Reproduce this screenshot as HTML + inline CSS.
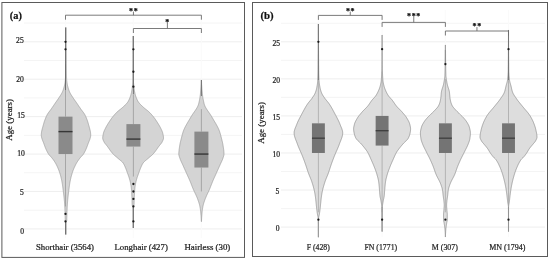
<!DOCTYPE html>
<html><head><meta charset="utf-8"><title>Age by coat and sex</title>
<style>html,body{margin:0;padding:0;background:#fff}svg{display:block}</style></head><body>
<svg width="550" height="260" viewBox="0 0 550 260" font-family="'Liberation Serif', 'DejaVu Serif', serif">
<style>text{stroke:#222;stroke-width:0.22px;paint-order:stroke}</style>
<rect width="550" height="260" fill="#fff"/>
<rect x="1.9" y="2.5" width="242.6" height="254.9" fill="#fff" stroke="#5a5a5a" stroke-width="1"/>
<line x1="24" x2="242" y1="228.90" y2="228.90" stroke="#ececec" stroke-width="0.9"/>
<line x1="24" x2="242" y1="210.19" y2="210.19" stroke="#ececec" stroke-width="0.6"/>
<line x1="24" x2="242" y1="191.48" y2="191.48" stroke="#ececec" stroke-width="0.9"/>
<line x1="24" x2="242" y1="172.77" y2="172.77" stroke="#ececec" stroke-width="0.6"/>
<line x1="24" x2="242" y1="154.06" y2="154.06" stroke="#ececec" stroke-width="0.9"/>
<line x1="24" x2="242" y1="135.35" y2="135.35" stroke="#ececec" stroke-width="0.6"/>
<line x1="24" x2="242" y1="116.64" y2="116.64" stroke="#ececec" stroke-width="0.9"/>
<line x1="24" x2="242" y1="97.93" y2="97.93" stroke="#ececec" stroke-width="0.6"/>
<line x1="24" x2="242" y1="79.22" y2="79.22" stroke="#ececec" stroke-width="0.9"/>
<line x1="24" x2="242" y1="60.51" y2="60.51" stroke="#ececec" stroke-width="0.6"/>
<line x1="24" x2="242" y1="41.80" y2="41.80" stroke="#ececec" stroke-width="0.9"/>
<line x1="24" x2="242" y1="23.09" y2="23.09" stroke="#ececec" stroke-width="0.6"/>
<line x1="65.50" x2="65.50" y1="10" y2="238" stroke="#f9f9f9" stroke-width="0.9"/>
<line x1="133.40" x2="133.40" y1="10" y2="238" stroke="#f9f9f9" stroke-width="0.9"/>
<line x1="201.40" x2="201.40" y1="10" y2="238" stroke="#f9f9f9" stroke-width="0.9"/>
<text x="24.00" y="234.00" font-size="7.6" text-anchor="end" fill="#222">0</text>
<text x="23.80" y="195.40" font-size="7.6" text-anchor="end" fill="#222">5</text>
<text x="24.80" y="156.40" font-size="7.6" text-anchor="end" fill="#222">10</text>
<text x="24.80" y="117.50" font-size="7.6" text-anchor="end" fill="#222">15</text>
<text x="23.80" y="82.20" font-size="7.6" text-anchor="end" fill="#222">20</text>
<text x="23.70" y="43.20" font-size="7.6" text-anchor="end" fill="#222">25</text>
<text transform="translate(12.4,140.8) rotate(-90)" font-size="9" fill="#222" textLength="41.8" lengthAdjust="spacingAndGlyphs">Age (years)</text>
<text x="9.8" y="18.7" font-size="9.8" font-weight="bold" fill="#111" textLength="12.1" lengthAdjust="spacingAndGlyphs">(a)</text>
<polygon points="65.95,27.50 65.95,28.00 65.95,28.50 65.95,29.00 65.95,29.50 65.95,30.00 65.95,30.50 65.95,31.00 65.95,31.50 65.95,32.00 65.95,32.50 65.95,33.00 65.95,33.50 65.95,34.00 65.94,34.50 65.94,35.00 65.94,35.50 65.94,36.00 65.94,36.50 65.94,37.00 65.94,37.50 65.94,38.00 65.94,38.50 65.94,39.00 65.94,39.50 65.93,40.00 65.93,40.50 65.93,41.00 65.93,41.50 65.93,42.00 65.93,42.50 65.93,43.00 65.92,43.50 65.92,44.00 65.92,44.50 65.92,45.00 65.92,45.50 65.92,46.00 65.91,46.50 65.91,47.00 65.91,47.50 65.91,48.00 65.91,48.50 65.90,49.00 65.90,49.50 65.90,50.00 65.90,50.50 65.90,51.00 65.89,51.50 65.89,52.00 65.89,52.50 65.89,53.00 65.88,53.50 65.88,54.00 65.88,54.50 65.88,55.00 65.87,55.50 65.87,56.00 65.87,56.50 65.87,57.00 65.86,57.50 65.86,58.00 65.86,58.50 65.86,59.00 65.85,59.50 65.85,60.00 65.85,60.50 65.84,61.00 65.84,61.50 65.84,62.00 65.83,62.50 65.83,63.00 65.82,63.50 65.81,64.00 65.81,64.50 65.80,65.00 65.79,65.50 65.79,66.00 65.78,66.50 65.77,67.00 65.76,67.50 65.75,68.00 65.74,68.50 65.73,69.00 65.72,69.50 65.71,70.00 65.70,70.50 65.68,71.00 65.67,71.50 65.66,72.00 65.64,72.50 65.63,73.00 65.61,73.50 65.59,74.00 65.58,74.50 65.56,75.00 65.54,75.50 65.52,76.00 65.51,76.50 65.49,77.00 65.47,77.50 65.44,78.00 65.42,78.50 65.40,79.00 65.37,79.50 65.33,80.00 65.29,80.50 65.23,81.00 65.17,81.50 65.11,82.00 65.04,82.50 64.96,83.00 64.88,83.50 64.80,84.00 64.71,84.50 64.61,85.00 64.49,85.50 64.36,86.00 64.23,86.50 64.09,87.00 63.95,87.50 63.80,88.00 63.65,88.50 63.50,89.00 63.34,89.50 63.17,90.00 63.00,90.50 62.81,91.00 62.61,91.50 62.40,92.00 62.17,92.50 61.92,93.00 61.64,93.50 61.35,94.00 61.05,94.50 60.73,95.00 60.41,95.50 60.08,96.00 59.75,96.50 59.42,97.00 59.10,97.50 58.77,98.00 58.44,98.50 58.10,99.00 57.75,99.50 57.41,100.00 57.05,100.50 56.70,101.00 56.35,101.50 55.99,102.00 55.64,102.50 55.30,103.00 54.96,103.50 54.62,104.00 54.28,104.50 53.94,105.00 53.61,105.50 53.27,106.00 52.93,106.50 52.59,107.00 52.25,107.50 51.91,108.00 51.57,108.50 51.22,109.00 50.85,109.50 50.48,110.00 50.10,110.50 49.71,111.00 49.33,111.50 48.95,112.00 48.58,112.50 48.22,113.00 47.88,113.50 47.56,114.00 47.27,114.50 47.00,115.00 46.75,115.50 46.52,116.00 46.28,116.50 46.06,117.00 45.84,117.50 45.63,118.00 45.43,118.50 45.23,119.00 45.04,119.50 44.86,120.00 44.68,120.50 44.51,121.00 44.34,121.50 44.19,122.00 44.03,122.50 43.88,123.00 43.74,123.50 43.60,124.00 43.46,124.50 43.32,125.00 43.18,125.50 43.04,126.00 42.89,126.50 42.75,127.00 42.61,127.50 42.47,128.00 42.33,128.50 42.20,129.00 42.08,129.50 41.96,130.00 41.84,130.50 41.74,131.00 41.64,131.50 41.56,132.00 41.48,132.50 41.42,133.00 41.37,133.50 41.33,134.00 41.31,134.50 41.30,135.00 41.31,135.50 41.36,136.00 41.43,136.50 41.52,137.00 41.63,137.50 41.76,138.00 41.91,138.50 42.07,139.00 42.25,139.50 42.43,140.00 42.62,140.50 42.82,141.00 43.02,141.50 43.23,142.00 43.43,142.50 43.62,143.00 43.82,143.50 44.00,144.00 44.18,144.50 44.36,145.00 44.54,145.50 44.73,146.00 44.92,146.50 45.11,147.00 45.30,147.50 45.50,148.00 45.71,148.50 45.92,149.00 46.14,149.50 46.36,150.00 46.60,150.50 46.84,151.00 47.09,151.50 47.35,152.00 47.62,152.50 47.90,153.00 48.19,153.50 48.50,154.00 48.85,154.50 49.25,155.00 49.70,155.50 50.18,156.00 50.66,156.50 51.14,157.00 51.59,157.50 52.00,158.00 52.38,158.50 52.75,159.00 53.12,159.50 53.48,160.00 53.84,160.50 54.18,161.00 54.51,161.50 54.84,162.00 55.15,162.50 55.45,163.00 55.73,163.50 56.00,164.00 56.26,164.50 56.51,165.00 56.76,165.50 57.01,166.00 57.25,166.50 57.48,167.00 57.71,167.50 57.93,168.00 58.14,168.50 58.35,169.00 58.55,169.50 58.75,170.00 58.94,170.50 59.13,171.00 59.31,171.50 59.48,172.00 59.64,172.50 59.80,173.00 59.95,173.50 60.10,174.00 60.25,174.50 60.39,175.00 60.53,175.50 60.66,176.00 60.80,176.50 60.92,177.00 61.05,177.50 61.17,178.00 61.28,178.50 61.40,179.00 61.51,179.50 61.61,180.00 61.72,180.50 61.81,181.00 61.91,181.50 62.00,182.00 62.09,182.50 62.17,183.00 62.26,183.50 62.33,184.00 62.41,184.50 62.49,185.00 62.56,185.50 62.63,186.00 62.70,186.50 62.77,187.00 62.83,187.50 62.90,188.00 62.96,188.50 63.03,189.00 63.09,189.50 63.15,190.00 63.21,190.50 63.28,191.00 63.34,191.50 63.40,192.00 63.46,192.50 63.52,193.00 63.59,193.50 63.65,194.00 63.71,194.50 63.77,195.00 63.83,195.50 63.89,196.00 63.94,196.50 64.00,197.00 64.06,197.50 64.11,198.00 64.16,198.50 64.21,199.00 64.26,199.50 64.30,200.00 64.34,200.50 64.39,201.00 64.43,201.50 64.47,202.00 64.50,202.50 64.54,203.00 64.58,203.50 64.61,204.00 64.65,204.50 64.68,205.00 64.71,205.50 64.74,206.00 64.77,206.50 64.80,207.00 64.83,207.50 64.85,208.00 64.88,208.50 64.90,209.00 64.92,209.50 64.94,210.00 64.97,210.50 64.99,211.00 65.01,211.50 65.03,212.00 65.05,212.50 65.06,213.00 65.08,213.50 65.10,214.00 65.12,214.50 65.13,215.00 65.14,215.50 65.15,216.00 65.16,216.50 65.17,217.00 65.18,217.50 65.19,218.00 65.21,218.50 65.22,219.00 65.25,219.50 65.27,220.00 65.30,220.50 65.41,221.00 65.62,221.50 65.83,222.00 65.92,222.50 65.92,223.00 65.93,223.50 65.93,224.00 65.93,224.50 65.93,225.00 65.94,225.50 65.94,226.00 65.94,226.50 65.94,227.00 65.94,227.50 65.94,228.00 65.94,228.50 65.95,229.00 65.95,229.50 65.95,230.00 65.95,230.50 65.95,231.00 65.95,231.50 65.95,232.00 65.95,232.50 65.95,233.00 65.95,233.50 65.95,234.00 65.95,234.50 66.05,234.50 66.05,234.00 66.05,233.50 66.05,233.00 66.05,232.50 66.05,232.00 66.05,231.50 66.05,231.00 66.05,230.50 66.05,230.00 66.05,229.50 66.05,229.00 66.06,228.50 66.06,228.00 66.06,227.50 66.06,227.00 66.06,226.50 66.06,226.00 66.06,225.50 66.07,225.00 66.07,224.50 66.07,224.00 66.07,223.50 66.08,223.00 66.08,222.50 66.17,222.00 66.38,221.50 66.59,221.00 66.70,220.50 66.73,220.00 66.75,219.50 66.78,219.00 66.79,218.50 66.81,218.00 66.82,217.50 66.83,217.00 66.84,216.50 66.85,216.00 66.86,215.50 66.87,215.00 66.88,214.50 66.90,214.00 66.92,213.50 66.94,213.00 66.95,212.50 66.97,212.00 66.99,211.50 67.01,211.00 67.03,210.50 67.06,210.00 67.08,209.50 67.10,209.00 67.12,208.50 67.15,208.00 67.17,207.50 67.20,207.00 67.23,206.50 67.26,206.00 67.29,205.50 67.32,205.00 67.35,204.50 67.39,204.00 67.42,203.50 67.46,203.00 67.50,202.50 67.53,202.00 67.57,201.50 67.61,201.00 67.66,200.50 67.70,200.00 67.74,199.50 67.79,199.00 67.84,198.50 67.89,198.00 67.94,197.50 68.00,197.00 68.06,196.50 68.11,196.00 68.17,195.50 68.23,195.00 68.29,194.50 68.35,194.00 68.41,193.50 68.48,193.00 68.54,192.50 68.60,192.00 68.66,191.50 68.72,191.00 68.79,190.50 68.85,190.00 68.91,189.50 68.97,189.00 69.04,188.50 69.10,188.00 69.17,187.50 69.23,187.00 69.30,186.50 69.37,186.00 69.44,185.50 69.51,185.00 69.59,184.50 69.67,184.00 69.74,183.50 69.83,183.00 69.91,182.50 70.00,182.00 70.09,181.50 70.19,181.00 70.28,180.50 70.39,180.00 70.49,179.50 70.60,179.00 70.72,178.50 70.83,178.00 70.95,177.50 71.08,177.00 71.20,176.50 71.34,176.00 71.47,175.50 71.61,175.00 71.75,174.50 71.90,174.00 72.05,173.50 72.20,173.00 72.36,172.50 72.52,172.00 72.69,171.50 72.87,171.00 73.06,170.50 73.25,170.00 73.45,169.50 73.65,169.00 73.86,168.50 74.07,168.00 74.29,167.50 74.52,167.00 74.75,166.50 74.99,166.00 75.24,165.50 75.49,165.00 75.74,164.50 76.00,164.00 76.27,163.50 76.55,163.00 76.85,162.50 77.16,162.00 77.49,161.50 77.82,161.00 78.16,160.50 78.52,160.00 78.88,159.50 79.25,159.00 79.62,158.50 80.00,158.00 80.41,157.50 80.86,157.00 81.34,156.50 81.82,156.00 82.30,155.50 82.75,155.00 83.15,154.50 83.50,154.00 83.81,153.50 84.10,153.00 84.38,152.50 84.65,152.00 84.91,151.50 85.16,151.00 85.40,150.50 85.64,150.00 85.86,149.50 86.08,149.00 86.29,148.50 86.50,148.00 86.70,147.50 86.89,147.00 87.08,146.50 87.27,146.00 87.46,145.50 87.64,145.00 87.82,144.50 88.00,144.00 88.18,143.50 88.38,143.00 88.57,142.50 88.77,142.00 88.98,141.50 89.18,141.00 89.38,140.50 89.57,140.00 89.75,139.50 89.93,139.00 90.09,138.50 90.24,138.00 90.37,137.50 90.48,137.00 90.57,136.50 90.64,136.00 90.69,135.50 90.70,135.00 90.69,134.50 90.67,134.00 90.63,133.50 90.58,133.00 90.52,132.50 90.44,132.00 90.36,131.50 90.26,131.00 90.16,130.50 90.04,130.00 89.92,129.50 89.80,129.00 89.67,128.50 89.53,128.00 89.39,127.50 89.25,127.00 89.11,126.50 88.96,126.00 88.82,125.50 88.68,125.00 88.54,124.50 88.40,124.00 88.26,123.50 88.12,123.00 87.97,122.50 87.81,122.00 87.66,121.50 87.49,121.00 87.32,120.50 87.14,120.00 86.96,119.50 86.77,119.00 86.57,118.50 86.37,118.00 86.16,117.50 85.94,117.00 85.72,116.50 85.48,116.00 85.25,115.50 85.00,115.00 84.73,114.50 84.44,114.00 84.12,113.50 83.78,113.00 83.42,112.50 83.05,112.00 82.67,111.50 82.29,111.00 81.90,110.50 81.52,110.00 81.15,109.50 80.78,109.00 80.43,108.50 80.09,108.00 79.75,107.50 79.41,107.00 79.07,106.50 78.73,106.00 78.39,105.50 78.06,105.00 77.72,104.50 77.38,104.00 77.04,103.50 76.70,103.00 76.36,102.50 76.01,102.00 75.65,101.50 75.30,101.00 74.95,100.50 74.59,100.00 74.25,99.50 73.90,99.00 73.56,98.50 73.23,98.00 72.90,97.50 72.58,97.00 72.25,96.50 71.92,96.00 71.59,95.50 71.27,95.00 70.95,94.50 70.65,94.00 70.36,93.50 70.08,93.00 69.83,92.50 69.60,92.00 69.39,91.50 69.19,91.00 69.00,90.50 68.83,90.00 68.66,89.50 68.50,89.00 68.35,88.50 68.20,88.00 68.05,87.50 67.91,87.00 67.77,86.50 67.64,86.00 67.51,85.50 67.39,85.00 67.29,84.50 67.20,84.00 67.12,83.50 67.04,83.00 66.96,82.50 66.89,82.00 66.83,81.50 66.77,81.00 66.71,80.50 66.67,80.00 66.63,79.50 66.60,79.00 66.58,78.50 66.56,78.00 66.53,77.50 66.51,77.00 66.49,76.50 66.48,76.00 66.46,75.50 66.44,75.00 66.42,74.50 66.41,74.00 66.39,73.50 66.37,73.00 66.36,72.50 66.34,72.00 66.33,71.50 66.32,71.00 66.30,70.50 66.29,70.00 66.28,69.50 66.27,69.00 66.26,68.50 66.25,68.00 66.24,67.50 66.23,67.00 66.22,66.50 66.21,66.00 66.21,65.50 66.20,65.00 66.19,64.50 66.19,64.00 66.18,63.50 66.17,63.00 66.17,62.50 66.16,62.00 66.16,61.50 66.16,61.00 66.15,60.50 66.15,60.00 66.15,59.50 66.14,59.00 66.14,58.50 66.14,58.00 66.14,57.50 66.13,57.00 66.13,56.50 66.13,56.00 66.13,55.50 66.12,55.00 66.12,54.50 66.12,54.00 66.12,53.50 66.11,53.00 66.11,52.50 66.11,52.00 66.11,51.50 66.10,51.00 66.10,50.50 66.10,50.00 66.10,49.50 66.10,49.00 66.09,48.50 66.09,48.00 66.09,47.50 66.09,47.00 66.09,46.50 66.08,46.00 66.08,45.50 66.08,45.00 66.08,44.50 66.08,44.00 66.08,43.50 66.07,43.00 66.07,42.50 66.07,42.00 66.07,41.50 66.07,41.00 66.07,40.50 66.07,40.00 66.06,39.50 66.06,39.00 66.06,38.50 66.06,38.00 66.06,37.50 66.06,37.00 66.06,36.50 66.06,36.00 66.06,35.50 66.06,35.00 66.06,34.50 66.05,34.00 66.05,33.50 66.05,33.00 66.05,32.50 66.05,32.00 66.05,31.50 66.05,31.00 66.05,30.50 66.05,30.00 66.05,29.50 66.05,29.00 66.05,28.50 66.05,28.00 66.05,27.50" fill="#d4d4d4" stroke="#999999" stroke-width="0.7" stroke-linejoin="round"/>
<line x1="65.50" y1="64.25" x2="65.50" y2="116.64" stroke="#8c8c8c" stroke-width="0.65"/>
<line x1="65.50" y1="154.06" x2="65.50" y2="206.45" stroke="#8c8c8c" stroke-width="0.65"/>
<rect x="58.50" y="116.64" width="14.00" height="37.42" fill="#8a8a8a"/>
<line x1="58.50" y1="131.61" x2="72.50" y2="131.61" stroke="#363636" stroke-width="1.4"/>
<line x1="65.50" y1="27.50" x2="65.50" y2="90.00" stroke="#6a6a6a" stroke-width="0.9"/>
<line x1="65.50" y1="222.00" x2="65.50" y2="234.50" stroke="#6a6a6a" stroke-width="0.9"/>
<circle cx="65.50" cy="41.80" r="1.15" fill="#1a1a1a"/>
<circle cx="65.50" cy="49.28" r="1.15" fill="#1a1a1a"/>
<circle cx="65.50" cy="213.93" r="1.15" fill="#1a1a1a"/>
<circle cx="65.50" cy="221.42" r="1.15" fill="#1a1a1a"/>
<polygon points="133.05,36.00 133.05,36.50 133.05,37.00 133.05,37.50 133.05,38.00 133.05,38.50 133.05,39.00 133.05,39.50 133.05,40.00 133.05,40.50 133.05,41.00 133.05,41.50 133.05,42.00 133.05,42.50 133.05,43.00 133.04,43.50 133.04,44.00 133.04,44.50 133.04,45.00 133.04,45.50 133.04,46.00 133.04,46.50 133.04,47.00 133.04,47.50 133.04,48.00 133.03,48.50 133.03,49.00 133.03,49.50 133.03,50.00 133.03,50.50 133.03,51.00 133.03,51.50 133.02,52.00 133.02,52.50 133.02,53.00 133.02,53.50 133.02,54.00 133.01,54.50 133.01,55.00 133.01,55.50 133.01,56.00 133.01,56.50 133.00,57.00 133.00,57.50 133.00,58.00 133.00,58.50 132.99,59.00 132.99,59.50 132.99,60.00 132.98,60.50 132.98,61.00 132.98,61.50 132.97,62.00 132.97,62.50 132.97,63.00 132.96,63.50 132.96,64.00 132.96,64.50 132.95,65.00 132.95,65.50 132.95,66.00 132.94,66.50 132.94,67.00 132.93,67.50 132.93,68.00 132.93,68.50 132.92,69.00 132.92,69.50 132.91,70.00 132.91,70.50 132.90,71.00 132.90,71.50 132.89,72.00 132.89,72.50 132.88,73.00 132.88,73.50 132.87,74.00 132.87,74.50 132.86,75.00 132.86,75.50 132.85,76.00 132.84,76.50 132.84,77.00 132.83,77.50 132.83,78.00 132.82,78.50 132.81,79.00 132.81,79.50 132.80,80.00 132.79,80.50 132.77,81.00 132.75,81.50 132.72,82.00 132.69,82.50 132.66,83.00 132.62,83.50 132.58,84.00 132.53,84.50 132.49,85.00 132.44,85.50 132.40,86.00 132.35,86.50 132.30,87.00 132.24,87.50 132.18,88.00 132.12,88.50 132.05,89.00 131.98,89.50 131.90,90.00 131.82,90.50 131.73,91.00 131.64,91.50 131.55,92.00 131.44,92.50 131.34,93.00 131.22,93.50 131.10,94.00 130.97,94.50 130.83,95.00 130.68,95.50 130.52,96.00 130.36,96.50 130.18,97.00 129.99,97.50 129.80,98.00 129.60,98.50 129.39,99.00 129.16,99.50 128.93,100.00 128.67,100.50 128.40,101.00 128.11,101.50 127.80,102.00 127.45,102.50 127.07,103.00 126.64,103.50 126.19,104.00 125.71,104.50 125.20,105.00 124.69,105.50 124.16,106.00 123.63,106.50 123.10,107.00 122.55,107.50 121.97,108.00 121.35,108.50 120.72,109.00 120.08,109.50 119.45,110.00 118.82,110.50 118.21,111.00 117.64,111.50 117.10,112.00 116.59,112.50 116.10,113.00 115.62,113.50 115.15,114.00 114.70,114.50 114.26,115.00 113.83,115.50 113.41,116.00 113.00,116.50 112.60,117.00 112.21,117.50 111.83,118.00 111.47,118.50 111.11,119.00 110.76,119.50 110.41,120.00 110.08,120.50 109.75,121.00 109.42,121.50 109.10,122.00 108.78,122.50 108.47,123.00 108.15,123.50 107.84,124.00 107.54,124.50 107.24,125.00 106.94,125.50 106.66,126.00 106.38,126.50 106.11,127.00 105.85,127.50 105.60,128.00 105.35,128.50 105.11,129.00 104.86,129.50 104.62,130.00 104.39,130.50 104.17,131.00 103.97,131.50 103.79,132.00 103.63,132.50 103.50,133.00 103.38,133.50 103.27,134.00 103.16,134.50 103.05,135.00 102.96,135.50 102.87,136.00 102.80,136.50 102.75,137.00 102.71,137.50 102.70,138.00 102.73,138.50 102.83,139.00 102.98,139.50 103.16,140.00 103.38,140.50 103.61,141.00 103.86,141.50 104.10,142.00 104.37,142.50 104.70,143.00 105.07,143.50 105.46,144.00 105.88,144.50 106.30,145.00 106.71,145.50 107.10,146.00 107.47,146.50 107.83,147.00 108.19,147.50 108.54,148.00 108.88,148.50 109.23,149.00 109.58,149.50 109.93,150.00 110.29,150.50 110.65,151.00 111.02,151.50 111.41,152.00 111.81,152.50 112.22,153.00 112.65,153.50 113.10,154.00 113.58,154.50 114.11,155.00 114.67,155.50 115.25,156.00 115.85,156.50 116.44,157.00 117.03,157.50 117.60,158.00 118.17,158.50 118.77,159.00 119.39,159.50 120.01,160.00 120.62,160.50 121.20,161.00 121.76,161.50 122.27,162.00 122.72,162.50 123.10,163.00 123.43,163.50 123.73,164.00 124.01,164.50 124.27,165.00 124.51,165.50 124.74,166.00 124.96,166.50 125.18,167.00 125.39,167.50 125.60,168.00 125.81,168.50 126.01,169.00 126.20,169.50 126.38,170.00 126.57,170.50 126.74,171.00 126.92,171.50 127.10,172.00 127.28,172.50 127.46,173.00 127.64,173.50 127.82,174.00 128.01,174.50 128.19,175.00 128.37,175.50 128.54,176.00 128.72,176.50 128.89,177.00 129.05,177.50 129.21,178.00 129.37,178.50 129.52,179.00 129.66,179.50 129.80,180.00 129.93,180.50 130.06,181.00 130.18,181.50 130.29,182.00 130.40,182.50 130.51,183.00 130.61,183.50 130.70,184.00 130.79,184.50 130.88,185.00 130.96,185.50 131.04,186.00 131.11,186.50 131.18,187.00 131.25,187.50 131.30,188.00 131.35,188.50 131.39,189.00 131.43,189.50 131.47,190.00 131.50,190.50 131.53,191.00 131.57,191.50 131.60,192.00 131.63,192.50 131.67,193.00 131.70,193.50 131.73,194.00 131.76,194.50 131.79,195.00 131.82,195.50 131.85,196.00 131.88,196.50 131.90,197.00 131.93,197.50 131.96,198.00 131.98,198.50 132.00,199.00 132.02,199.50 132.03,200.00 132.05,200.50 132.06,201.00 132.07,201.50 132.08,202.00 132.09,202.50 132.11,203.00 132.12,203.50 132.14,204.00 132.17,204.50 132.20,205.00 132.31,205.50 132.51,206.00 132.75,206.50 132.94,207.00 133.02,207.50 133.02,208.00 133.02,208.50 133.03,209.00 133.03,209.50 133.03,210.00 133.03,210.50 133.03,211.00 133.03,211.50 133.03,212.00 133.04,212.50 133.04,213.00 133.04,213.50 133.04,214.00 133.04,214.50 133.04,215.00 133.04,215.50 133.04,216.00 133.04,216.50 133.04,217.00 133.04,217.50 133.05,218.00 133.05,218.50 133.05,219.00 133.05,219.50 133.05,220.00 133.05,220.50 133.05,221.00 133.05,221.50 133.05,222.00 133.05,222.50 133.05,223.00 133.05,223.50 133.05,224.00 133.05,224.50 133.05,225.00 133.05,225.50 133.05,226.00 133.05,226.50 133.05,227.00 133.05,227.50 133.05,228.00 133.15,228.00 133.15,227.50 133.15,227.00 133.15,226.50 133.15,226.00 133.15,225.50 133.15,225.00 133.15,224.50 133.15,224.00 133.15,223.50 133.15,223.00 133.15,222.50 133.15,222.00 133.15,221.50 133.15,221.00 133.15,220.50 133.15,220.00 133.15,219.50 133.15,219.00 133.15,218.50 133.15,218.00 133.16,217.50 133.16,217.00 133.16,216.50 133.16,216.00 133.16,215.50 133.16,215.00 133.16,214.50 133.16,214.00 133.16,213.50 133.16,213.00 133.16,212.50 133.17,212.00 133.17,211.50 133.17,211.00 133.17,210.50 133.17,210.00 133.17,209.50 133.17,209.00 133.18,208.50 133.18,208.00 133.18,207.50 133.26,207.00 133.45,206.50 133.69,206.00 133.89,205.50 134.00,205.00 134.03,204.50 134.06,204.00 134.08,203.50 134.09,203.00 134.11,202.50 134.12,202.00 134.13,201.50 134.14,201.00 134.15,200.50 134.17,200.00 134.18,199.50 134.20,199.00 134.22,198.50 134.24,198.00 134.27,197.50 134.30,197.00 134.32,196.50 134.35,196.00 134.38,195.50 134.41,195.00 134.44,194.50 134.47,194.00 134.50,193.50 134.53,193.00 134.57,192.50 134.60,192.00 134.63,191.50 134.67,191.00 134.70,190.50 134.73,190.00 134.77,189.50 134.81,189.00 134.85,188.50 134.90,188.00 134.95,187.50 135.02,187.00 135.09,186.50 135.16,186.00 135.24,185.50 135.32,185.00 135.41,184.50 135.50,184.00 135.59,183.50 135.69,183.00 135.80,182.50 135.91,182.00 136.02,181.50 136.14,181.00 136.27,180.50 136.40,180.00 136.54,179.50 136.68,179.00 136.83,178.50 136.99,178.00 137.15,177.50 137.31,177.00 137.48,176.50 137.66,176.00 137.83,175.50 138.01,175.00 138.19,174.50 138.38,174.00 138.56,173.50 138.74,173.00 138.92,172.50 139.10,172.00 139.28,171.50 139.46,171.00 139.63,170.50 139.82,170.00 140.00,169.50 140.19,169.00 140.39,168.50 140.60,168.00 140.81,167.50 141.02,167.00 141.24,166.50 141.46,166.00 141.69,165.50 141.93,165.00 142.19,164.50 142.47,164.00 142.77,163.50 143.10,163.00 143.48,162.50 143.93,162.00 144.44,161.50 145.00,161.00 145.58,160.50 146.19,160.00 146.81,159.50 147.43,159.00 148.03,158.50 148.60,158.00 149.17,157.50 149.76,157.00 150.35,156.50 150.95,156.00 151.53,155.50 152.09,155.00 152.62,154.50 153.10,154.00 153.55,153.50 153.98,153.00 154.39,152.50 154.79,152.00 155.18,151.50 155.55,151.00 155.91,150.50 156.27,150.00 156.62,149.50 156.97,149.00 157.32,148.50 157.66,148.00 158.01,147.50 158.37,147.00 158.73,146.50 159.10,146.00 159.49,145.50 159.90,145.00 160.32,144.50 160.74,144.00 161.13,143.50 161.50,143.00 161.83,142.50 162.10,142.00 162.34,141.50 162.59,141.00 162.82,140.50 163.04,140.00 163.22,139.50 163.37,139.00 163.47,138.50 163.50,138.00 163.49,137.50 163.45,137.00 163.40,136.50 163.33,136.00 163.24,135.50 163.15,135.00 163.04,134.50 162.93,134.00 162.82,133.50 162.70,133.00 162.57,132.50 162.41,132.00 162.23,131.50 162.03,131.00 161.81,130.50 161.58,130.00 161.34,129.50 161.09,129.00 160.85,128.50 160.60,128.00 160.35,127.50 160.09,127.00 159.82,126.50 159.54,126.00 159.26,125.50 158.96,125.00 158.66,124.50 158.36,124.00 158.05,123.50 157.73,123.00 157.42,122.50 157.10,122.00 156.78,121.50 156.45,121.00 156.12,120.50 155.79,120.00 155.44,119.50 155.09,119.00 154.73,118.50 154.37,118.00 153.99,117.50 153.60,117.00 153.20,116.50 152.79,116.00 152.37,115.50 151.94,115.00 151.50,114.50 151.05,114.00 150.58,113.50 150.10,113.00 149.61,112.50 149.10,112.00 148.56,111.50 147.99,111.00 147.38,110.50 146.75,110.00 146.12,109.50 145.48,109.00 144.85,108.50 144.23,108.00 143.65,107.50 143.10,107.00 142.57,106.50 142.04,106.00 141.51,105.50 141.00,105.00 140.49,104.50 140.01,104.00 139.56,103.50 139.13,103.00 138.75,102.50 138.40,102.00 138.09,101.50 137.80,101.00 137.53,100.50 137.27,100.00 137.04,99.50 136.81,99.00 136.60,98.50 136.40,98.00 136.21,97.50 136.02,97.00 135.84,96.50 135.68,96.00 135.52,95.50 135.37,95.00 135.23,94.50 135.10,94.00 134.98,93.50 134.86,93.00 134.76,92.50 134.65,92.00 134.56,91.50 134.47,91.00 134.38,90.50 134.30,90.00 134.22,89.50 134.15,89.00 134.08,88.50 134.02,88.00 133.96,87.50 133.90,87.00 133.85,86.50 133.80,86.00 133.76,85.50 133.71,85.00 133.67,84.50 133.62,84.00 133.58,83.50 133.54,83.00 133.51,82.50 133.48,82.00 133.45,81.50 133.43,81.00 133.41,80.50 133.40,80.00 133.39,79.50 133.39,79.00 133.38,78.50 133.37,78.00 133.37,77.50 133.36,77.00 133.36,76.50 133.35,76.00 133.34,75.50 133.34,75.00 133.33,74.50 133.33,74.00 133.32,73.50 133.32,73.00 133.31,72.50 133.31,72.00 133.30,71.50 133.30,71.00 133.29,70.50 133.29,70.00 133.28,69.50 133.28,69.00 133.27,68.50 133.27,68.00 133.27,67.50 133.26,67.00 133.26,66.50 133.25,66.00 133.25,65.50 133.25,65.00 133.24,64.50 133.24,64.00 133.24,63.50 133.23,63.00 133.23,62.50 133.23,62.00 133.22,61.50 133.22,61.00 133.22,60.50 133.21,60.00 133.21,59.50 133.21,59.00 133.20,58.50 133.20,58.00 133.20,57.50 133.20,57.00 133.19,56.50 133.19,56.00 133.19,55.50 133.19,55.00 133.19,54.50 133.18,54.00 133.18,53.50 133.18,53.00 133.18,52.50 133.18,52.00 133.17,51.50 133.17,51.00 133.17,50.50 133.17,50.00 133.17,49.50 133.17,49.00 133.17,48.50 133.16,48.00 133.16,47.50 133.16,47.00 133.16,46.50 133.16,46.00 133.16,45.50 133.16,45.00 133.16,44.50 133.16,44.00 133.16,43.50 133.15,43.00 133.15,42.50 133.15,42.00 133.15,41.50 133.15,41.00 133.15,40.50 133.15,40.00 133.15,39.50 133.15,39.00 133.15,38.50 133.15,38.00 133.15,37.50 133.15,37.00 133.15,36.50 133.15,36.00" fill="#d4d4d4" stroke="#999999" stroke-width="0.7" stroke-linejoin="round"/>
<line x1="133.40" y1="94.19" x2="133.40" y2="124.12" stroke="#8c8c8c" stroke-width="0.65"/>
<line x1="133.40" y1="146.58" x2="133.40" y2="176.51" stroke="#8c8c8c" stroke-width="0.65"/>
<rect x="126.40" y="124.12" width="14.00" height="22.45" fill="#8a8a8a"/>
<line x1="126.40" y1="139.09" x2="140.40" y2="139.09" stroke="#363636" stroke-width="1.4"/>
<line x1="133.40" y1="36.00" x2="133.40" y2="94.00" stroke="#6a6a6a" stroke-width="0.9"/>
<line x1="133.40" y1="207.00" x2="133.40" y2="228.00" stroke="#6a6a6a" stroke-width="0.9"/>
<circle cx="133.40" cy="49.28" r="1.15" fill="#1a1a1a"/>
<circle cx="133.40" cy="71.74" r="1.15" fill="#1a1a1a"/>
<circle cx="133.40" cy="86.70" r="1.15" fill="#1a1a1a"/>
<circle cx="133.40" cy="184.00" r="1.15" fill="#1a1a1a"/>
<circle cx="133.40" cy="191.48" r="1.15" fill="#1a1a1a"/>
<circle cx="133.40" cy="198.96" r="1.15" fill="#1a1a1a"/>
<circle cx="133.40" cy="206.45" r="1.15" fill="#1a1a1a"/>
<circle cx="133.40" cy="221.42" r="1.15" fill="#1a1a1a"/>
<polygon points="201.30,80.00 201.30,80.50 201.29,81.00 201.28,81.50 201.27,82.00 201.25,82.50 201.23,83.00 201.21,83.50 201.19,84.00 201.16,84.50 201.13,85.00 201.10,85.50 201.07,86.00 201.04,86.50 201.01,87.00 200.97,87.50 200.93,88.00 200.89,88.50 200.85,89.00 200.81,89.50 200.77,90.00 200.73,90.50 200.69,91.00 200.64,91.50 200.60,92.00 200.56,92.50 200.51,93.00 200.46,93.50 200.40,94.00 200.35,94.50 200.29,95.00 200.22,95.50 200.16,96.00 200.09,96.50 200.01,97.00 199.94,97.50 199.86,98.00 199.77,98.50 199.69,99.00 199.60,99.50 199.50,100.00 199.40,100.50 199.30,101.00 199.19,101.50 199.08,102.00 198.97,102.50 198.85,103.00 198.73,103.50 198.60,104.00 198.46,104.50 198.29,105.00 198.10,105.50 197.89,106.00 197.65,106.50 197.40,107.00 197.13,107.50 196.85,108.00 196.55,108.50 196.24,109.00 195.91,109.50 195.58,110.00 195.25,110.50 194.90,111.00 194.55,111.50 194.20,112.00 193.85,112.50 193.50,113.00 193.15,113.50 192.80,114.00 192.46,114.50 192.13,115.00 191.81,115.50 191.49,116.00 191.19,116.50 190.90,117.00 190.62,117.50 190.33,118.00 190.04,118.50 189.75,119.00 189.45,119.50 189.15,120.00 188.86,120.50 188.56,121.00 188.26,121.50 187.96,122.00 187.67,122.50 187.37,123.00 187.08,123.50 186.80,124.00 186.51,124.50 186.23,125.00 185.96,125.50 185.69,126.00 185.42,126.50 185.16,127.00 184.91,127.50 184.67,128.00 184.43,128.50 184.21,129.00 183.99,129.50 183.78,130.00 183.59,130.50 183.40,131.00 183.22,131.50 183.06,132.00 182.89,132.50 182.74,133.00 182.59,133.50 182.45,134.00 182.31,134.50 182.17,135.00 182.04,135.50 181.91,136.00 181.78,136.50 181.65,137.00 181.53,137.50 181.40,138.00 181.27,138.50 181.14,139.00 181.02,139.50 180.89,140.00 180.77,140.50 180.64,141.00 180.53,141.50 180.41,142.00 180.30,142.50 180.19,143.00 180.09,143.50 180.00,144.00 179.91,144.50 179.82,145.00 179.73,145.50 179.65,146.00 179.57,146.50 179.49,147.00 179.41,147.50 179.34,148.00 179.27,148.50 179.21,149.00 179.15,149.50 179.10,150.00 179.05,150.50 179.00,151.00 178.95,151.50 178.90,152.00 178.86,152.50 178.83,153.00 178.81,153.50 178.80,154.00 178.83,154.50 178.90,155.00 179.01,155.50 179.15,156.00 179.30,156.50 179.47,157.00 179.64,157.50 179.80,158.00 179.96,158.50 180.14,159.00 180.33,159.50 180.53,160.00 180.74,160.50 180.96,161.00 181.19,161.50 181.42,162.00 181.65,162.50 181.89,163.00 182.13,163.50 182.36,164.00 182.59,164.50 182.82,165.00 183.04,165.50 183.26,166.00 183.49,166.50 183.71,167.00 183.93,167.50 184.15,168.00 184.38,168.50 184.60,169.00 184.83,169.50 185.05,170.00 185.28,170.50 185.50,171.00 185.73,171.50 185.95,172.00 186.18,172.50 186.40,173.00 186.62,173.50 186.85,174.00 187.08,174.50 187.31,175.00 187.53,175.50 187.76,176.00 187.99,176.50 188.22,177.00 188.44,177.50 188.67,178.00 188.89,178.50 189.12,179.00 189.34,179.50 189.56,180.00 189.77,180.50 189.98,181.00 190.19,181.50 190.40,182.00 190.60,182.50 190.80,183.00 191.00,183.50 191.19,184.00 191.39,184.50 191.58,185.00 191.78,185.50 191.97,186.00 192.17,186.50 192.36,187.00 192.56,187.50 192.76,188.00 192.97,188.50 193.17,189.00 193.39,189.50 193.60,190.00 193.82,190.50 194.05,191.00 194.28,191.50 194.52,192.00 194.76,192.50 195.00,193.00 195.25,193.50 195.49,194.00 195.72,194.50 195.96,195.00 196.18,195.50 196.40,196.00 196.61,196.50 196.83,197.00 197.04,197.50 197.24,198.00 197.44,198.50 197.64,199.00 197.82,199.50 198.00,200.00 198.17,200.50 198.35,201.00 198.52,201.50 198.69,202.00 198.85,202.50 199.01,203.00 199.16,203.50 199.31,204.00 199.45,204.50 199.58,205.00 199.69,205.50 199.80,206.00 199.90,206.50 199.99,207.00 200.08,207.50 200.17,208.00 200.25,208.50 200.33,209.00 200.40,209.50 200.47,210.00 200.54,210.50 200.60,211.00 200.65,211.50 200.70,212.00 200.75,212.50 200.79,213.00 200.84,213.50 200.88,214.00 200.92,214.50 200.96,215.00 201.00,215.50 201.04,216.00 201.08,216.50 201.11,217.00 201.15,217.50 201.18,218.00 201.20,218.50 201.23,219.00 201.25,219.50 201.27,220.00 201.28,220.50 201.29,221.00 201.30,221.50 201.50,221.50 201.51,221.00 201.52,220.50 201.53,220.00 201.55,219.50 201.57,219.00 201.60,218.50 201.62,218.00 201.65,217.50 201.69,217.00 201.72,216.50 201.76,216.00 201.80,215.50 201.84,215.00 201.88,214.50 201.92,214.00 201.96,213.50 202.01,213.00 202.05,212.50 202.10,212.00 202.15,211.50 202.20,211.00 202.26,210.50 202.33,210.00 202.40,209.50 202.47,209.00 202.55,208.50 202.63,208.00 202.72,207.50 202.81,207.00 202.90,206.50 203.00,206.00 203.11,205.50 203.22,205.00 203.35,204.50 203.49,204.00 203.64,203.50 203.79,203.00 203.95,202.50 204.11,202.00 204.28,201.50 204.45,201.00 204.63,200.50 204.80,200.00 204.98,199.50 205.16,199.00 205.36,198.50 205.56,198.00 205.76,197.50 205.97,197.00 206.19,196.50 206.40,196.00 206.62,195.50 206.84,195.00 207.08,194.50 207.31,194.00 207.55,193.50 207.80,193.00 208.04,192.50 208.28,192.00 208.52,191.50 208.75,191.00 208.98,190.50 209.20,190.00 209.41,189.50 209.63,189.00 209.83,188.50 210.04,188.00 210.24,187.50 210.44,187.00 210.63,186.50 210.83,186.00 211.02,185.50 211.22,185.00 211.41,184.50 211.61,184.00 211.80,183.50 212.00,183.00 212.20,182.50 212.40,182.00 212.61,181.50 212.82,181.00 213.03,180.50 213.24,180.00 213.46,179.50 213.68,179.00 213.91,178.50 214.13,178.00 214.36,177.50 214.58,177.00 214.81,176.50 215.04,176.00 215.27,175.50 215.49,175.00 215.72,174.50 215.95,174.00 216.18,173.50 216.40,173.00 216.62,172.50 216.85,172.00 217.07,171.50 217.30,171.00 217.52,170.50 217.75,170.00 217.97,169.50 218.20,169.00 218.42,168.50 218.65,168.00 218.87,167.50 219.09,167.00 219.31,166.50 219.54,166.00 219.76,165.50 219.98,165.00 220.21,164.50 220.44,164.00 220.67,163.50 220.91,163.00 221.15,162.50 221.38,162.00 221.61,161.50 221.84,161.00 222.06,160.50 222.27,160.00 222.47,159.50 222.66,159.00 222.84,158.50 223.00,158.00 223.16,157.50 223.33,157.00 223.50,156.50 223.65,156.00 223.79,155.50 223.90,155.00 223.97,154.50 224.00,154.00 223.99,153.50 223.97,153.00 223.94,152.50 223.90,152.00 223.85,151.50 223.80,151.00 223.75,150.50 223.70,150.00 223.65,149.50 223.59,149.00 223.53,148.50 223.46,148.00 223.39,147.50 223.31,147.00 223.23,146.50 223.15,146.00 223.07,145.50 222.98,145.00 222.89,144.50 222.80,144.00 222.71,143.50 222.61,143.00 222.50,142.50 222.39,142.00 222.27,141.50 222.16,141.00 222.03,140.50 221.91,140.00 221.78,139.50 221.66,139.00 221.53,138.50 221.40,138.00 221.27,137.50 221.15,137.00 221.02,136.50 220.89,136.00 220.76,135.50 220.63,135.00 220.49,134.50 220.35,134.00 220.21,133.50 220.06,133.00 219.91,132.50 219.74,132.00 219.58,131.50 219.40,131.00 219.21,130.50 219.02,130.00 218.81,129.50 218.59,129.00 218.37,128.50 218.13,128.00 217.89,127.50 217.64,127.00 217.38,126.50 217.11,126.00 216.84,125.50 216.57,125.00 216.29,124.50 216.00,124.00 215.72,123.50 215.43,123.00 215.13,122.50 214.84,122.00 214.54,121.50 214.24,121.00 213.94,120.50 213.65,120.00 213.35,119.50 213.05,119.00 212.76,118.50 212.47,118.00 212.18,117.50 211.90,117.00 211.61,116.50 211.31,116.00 210.99,115.50 210.67,115.00 210.34,114.50 210.00,114.00 209.65,113.50 209.30,113.00 208.95,112.50 208.60,112.00 208.25,111.50 207.90,111.00 207.55,110.50 207.22,110.00 206.89,109.50 206.56,109.00 206.25,108.50 205.95,108.00 205.67,107.50 205.40,107.00 205.15,106.50 204.91,106.00 204.70,105.50 204.51,105.00 204.34,104.50 204.20,104.00 204.07,103.50 203.95,103.00 203.83,102.50 203.72,102.00 203.61,101.50 203.50,101.00 203.40,100.50 203.30,100.00 203.20,99.50 203.11,99.00 203.03,98.50 202.94,98.00 202.86,97.50 202.79,97.00 202.71,96.50 202.64,96.00 202.58,95.50 202.51,95.00 202.45,94.50 202.40,94.00 202.34,93.50 202.29,93.00 202.24,92.50 202.20,92.00 202.16,91.50 202.11,91.00 202.07,90.50 202.03,90.00 201.99,89.50 201.95,89.00 201.91,88.50 201.87,88.00 201.83,87.50 201.79,87.00 201.76,86.50 201.73,86.00 201.70,85.50 201.67,85.00 201.64,84.50 201.61,84.00 201.59,83.50 201.57,83.00 201.55,82.50 201.53,82.00 201.52,81.50 201.51,81.00 201.50,80.50 201.50,80.00" fill="#d4d4d4" stroke="#999999" stroke-width="0.7" stroke-linejoin="round"/>
<line x1="201.40" y1="109.16" x2="201.40" y2="131.61" stroke="#8c8c8c" stroke-width="0.65"/>
<line x1="201.40" y1="167.53" x2="201.40" y2="191.48" stroke="#8c8c8c" stroke-width="0.65"/>
<rect x="194.40" y="131.61" width="14.00" height="35.92" fill="#8a8a8a"/>
<line x1="194.40" y1="154.06" x2="208.40" y2="154.06" stroke="#363636" stroke-width="1.4"/>
<line x1="201.40" y1="80.00" x2="201.40" y2="96.00" stroke="#6a6a6a" stroke-width="0.9"/>
<polyline points="65.50,19.70 65.50,15.20 201.40,15.20 201.40,19.70" fill="none" stroke="#6c6c6c" stroke-width="0.9"/>
<line x1="133.45" y1="11.60" x2="133.45" y2="15.20" stroke="#6c6c6c" stroke-width="0.9"/>
<text x="133.70" y="13.50" font-size="8" text-anchor="middle" font-weight="bold" fill="#111" letter-spacing="0.6" style="stroke-width:0.25px">**</text>
<polyline points="133.40,33.00 133.40,28.50 201.40,28.50 201.40,33.00" fill="none" stroke="#6c6c6c" stroke-width="0.9"/>
<line x1="167.40" y1="22.60" x2="167.40" y2="28.50" stroke="#6c6c6c" stroke-width="0.9"/>
<text x="167.65" y="24.50" font-size="8" text-anchor="middle" font-weight="bold" fill="#111" letter-spacing="0.6" style="stroke-width:0.25px">*</text>
<text x="36.00" y="250.20" font-size="8.2" font-weight="normal" fill="#222" textLength="58.00" lengthAdjust="spacingAndGlyphs">Shorthair (3564)</text>
<text x="114.50" y="250.20" font-size="8.2" font-weight="normal" fill="#222" textLength="53.30" lengthAdjust="spacingAndGlyphs">Longhair (427)</text>
<text x="184.40" y="250.20" font-size="8.2" font-weight="normal" fill="#222" textLength="45.90" lengthAdjust="spacingAndGlyphs">Hairless (30)</text>
<rect x="252.5" y="2.5" width="295" height="254" fill="#fff" stroke="#5a5a5a" stroke-width="1"/>
<line x1="281" x2="545" y1="227.10" y2="227.10" stroke="#ececec" stroke-width="0.9"/>
<line x1="281" x2="545" y1="208.57" y2="208.57" stroke="#ececec" stroke-width="0.6"/>
<line x1="281" x2="545" y1="190.04" y2="190.04" stroke="#ececec" stroke-width="0.9"/>
<line x1="281" x2="545" y1="171.51" y2="171.51" stroke="#ececec" stroke-width="0.6"/>
<line x1="281" x2="545" y1="152.98" y2="152.98" stroke="#ececec" stroke-width="0.9"/>
<line x1="281" x2="545" y1="134.45" y2="134.45" stroke="#ececec" stroke-width="0.6"/>
<line x1="281" x2="545" y1="115.92" y2="115.92" stroke="#ececec" stroke-width="0.9"/>
<line x1="281" x2="545" y1="97.39" y2="97.39" stroke="#ececec" stroke-width="0.6"/>
<line x1="281" x2="545" y1="78.86" y2="78.86" stroke="#ececec" stroke-width="0.9"/>
<line x1="281" x2="545" y1="60.33" y2="60.33" stroke="#ececec" stroke-width="0.6"/>
<line x1="281" x2="545" y1="41.80" y2="41.80" stroke="#ececec" stroke-width="0.9"/>
<line x1="281" x2="545" y1="23.27" y2="23.27" stroke="#ececec" stroke-width="0.6"/>
<line x1="318.40" x2="318.40" y1="10" y2="237" stroke="#f9f9f9" stroke-width="0.9"/>
<line x1="382.10" x2="382.10" y1="10" y2="237" stroke="#f9f9f9" stroke-width="0.9"/>
<line x1="445.40" x2="445.40" y1="10" y2="237" stroke="#f9f9f9" stroke-width="0.9"/>
<line x1="508.50" x2="508.50" y1="10" y2="237" stroke="#f9f9f9" stroke-width="0.9"/>
<text x="279.50" y="230.70" font-size="7.6" text-anchor="end" fill="#222">0</text>
<text x="279.30" y="194.00" font-size="7.6" text-anchor="end" fill="#222">5</text>
<text x="280.00" y="157.00" font-size="7.6" text-anchor="end" fill="#222">10</text>
<text x="280.00" y="120.40" font-size="7.6" text-anchor="end" fill="#222">15</text>
<text x="280.00" y="83.40" font-size="7.6" text-anchor="end" fill="#222">20</text>
<text x="280.00" y="46.10" font-size="7.6" text-anchor="end" fill="#222">25</text>
<text transform="translate(263.7,143.8) rotate(-90)" font-size="9" fill="#222" textLength="41.8" lengthAdjust="spacingAndGlyphs">Age (years)</text>
<text x="260.4" y="18.8" font-size="9.7" font-weight="bold" fill="#111" textLength="13.1" lengthAdjust="spacingAndGlyphs">(b)</text>
<polygon points="318.35,24.00 318.35,24.50 318.35,25.00 318.35,25.50 318.35,26.00 318.35,26.50 318.35,27.00 318.35,27.50 318.35,28.00 318.35,28.50 318.35,29.00 318.35,29.50 318.35,30.00 318.34,30.50 318.34,31.00 318.34,31.50 318.34,32.00 318.34,32.50 318.34,33.00 318.34,33.50 318.34,34.00 318.34,34.50 318.34,35.00 318.33,35.50 318.33,36.00 318.33,36.50 318.33,37.00 318.33,37.50 318.33,38.00 318.32,38.50 318.32,39.00 318.32,39.50 318.32,40.00 318.32,40.50 318.32,41.00 318.31,41.50 318.31,42.00 318.31,42.50 318.31,43.00 318.30,43.50 318.30,44.00 318.30,44.50 318.30,45.00 318.30,45.50 318.29,46.00 318.29,46.50 318.29,47.00 318.28,47.50 318.28,48.00 318.28,48.50 318.28,49.00 318.27,49.50 318.27,50.00 318.27,50.50 318.26,51.00 318.26,51.50 318.26,52.00 318.25,52.50 318.25,53.00 318.25,53.50 318.24,54.00 318.24,54.50 318.24,55.00 318.23,55.50 318.23,56.00 318.22,56.50 318.22,57.00 318.22,57.50 318.21,58.00 318.21,58.50 318.20,59.00 318.20,59.50 318.20,60.00 318.19,60.50 318.19,61.00 318.18,61.50 318.18,62.00 318.17,62.50 318.17,63.00 318.17,63.50 318.16,64.00 318.16,64.50 318.15,65.00 318.15,65.50 318.14,66.00 318.14,66.50 318.13,67.00 318.13,67.50 318.12,68.00 318.12,68.50 318.11,69.00 318.11,69.50 318.10,70.00 318.09,70.50 318.09,71.00 318.08,71.50 318.07,72.00 318.06,72.50 318.05,73.00 318.04,73.50 318.03,74.00 318.01,74.50 318.00,75.00 317.98,75.50 317.97,76.00 317.95,76.50 317.93,77.00 317.91,77.50 317.89,78.00 317.87,78.50 317.85,79.00 317.82,79.50 317.80,80.00 317.77,80.50 317.74,81.00 317.69,81.50 317.64,82.00 317.59,82.50 317.53,83.00 317.46,83.50 317.39,84.00 317.32,84.50 317.24,85.00 317.16,85.50 317.07,86.00 316.98,86.50 316.89,87.00 316.80,87.50 316.70,88.00 316.60,88.50 316.48,89.00 316.36,89.50 316.22,90.00 316.08,90.50 315.92,91.00 315.76,91.50 315.58,92.00 315.40,92.50 315.20,93.00 314.98,93.50 314.74,94.00 314.47,94.50 314.18,95.00 313.87,95.50 313.55,96.00 313.22,96.50 312.88,97.00 312.54,97.50 312.20,98.00 311.85,98.50 311.47,99.00 311.08,99.50 310.68,100.00 310.26,100.50 309.84,101.00 309.43,101.50 309.01,102.00 308.61,102.50 308.22,103.00 307.85,103.50 307.50,104.00 307.17,104.50 306.85,105.00 306.53,105.50 306.22,106.00 305.92,106.50 305.62,107.00 305.32,107.50 305.04,108.00 304.75,108.50 304.47,109.00 304.20,109.50 303.92,110.00 303.65,110.50 303.38,111.00 303.12,111.50 302.85,112.00 302.59,112.50 302.33,113.00 302.06,113.50 301.80,114.00 301.54,114.50 301.27,115.00 301.00,115.50 300.74,116.00 300.47,116.50 300.21,117.00 299.94,117.50 299.68,118.00 299.42,118.50 299.17,119.00 298.91,119.50 298.66,120.00 298.42,120.50 298.18,121.00 297.95,121.50 297.73,122.00 297.51,122.50 297.30,123.00 297.09,123.50 296.90,124.00 296.71,124.50 296.50,125.00 296.30,125.50 296.09,126.00 295.88,126.50 295.67,127.00 295.46,127.50 295.26,128.00 295.07,128.50 294.89,129.00 294.73,129.50 294.57,130.00 294.44,130.50 294.32,131.00 294.23,131.50 294.16,132.00 294.12,132.50 294.10,133.00 294.11,133.50 294.15,134.00 294.21,134.50 294.28,135.00 294.38,135.50 294.50,136.00 294.63,136.50 294.77,137.00 294.93,137.50 295.09,138.00 295.27,138.50 295.46,139.00 295.65,139.50 295.84,140.00 296.04,140.50 296.25,141.00 296.45,141.50 296.65,142.00 296.84,142.50 297.04,143.00 297.22,143.50 297.40,144.00 297.58,144.50 297.76,145.00 297.95,145.50 298.14,146.00 298.34,146.50 298.55,147.00 298.75,147.50 298.97,148.00 299.18,148.50 299.39,149.00 299.61,149.50 299.83,150.00 300.05,150.50 300.27,151.00 300.49,151.50 300.71,152.00 300.93,152.50 301.15,153.00 301.37,153.50 301.58,154.00 301.79,154.50 302.00,155.00 302.20,155.50 302.40,156.00 302.60,156.50 302.79,157.00 302.99,157.50 303.18,158.00 303.37,158.50 303.56,159.00 303.75,159.50 303.94,160.00 304.13,160.50 304.31,161.00 304.50,161.50 304.68,162.00 304.86,162.50 305.04,163.00 305.22,163.50 305.40,164.00 305.57,164.50 305.75,165.00 305.92,165.50 306.08,166.00 306.25,166.50 306.41,167.00 306.57,167.50 306.73,168.00 306.89,168.50 307.05,169.00 307.22,169.50 307.38,170.00 307.54,170.50 307.71,171.00 307.88,171.50 308.05,172.00 308.22,172.50 308.40,173.00 308.58,173.50 308.77,174.00 308.97,174.50 309.16,175.00 309.37,175.50 309.57,176.00 309.78,176.50 309.98,177.00 310.19,177.50 310.39,178.00 310.60,178.50 310.80,179.00 311.00,179.50 311.19,180.00 311.38,180.50 311.56,181.00 311.73,181.50 311.90,182.00 312.06,182.50 312.22,183.00 312.38,183.50 312.53,184.00 312.69,184.50 312.84,185.00 312.99,185.50 313.13,186.00 313.27,186.50 313.41,187.00 313.55,187.50 313.68,188.00 313.81,188.50 313.94,189.00 314.06,189.50 314.18,190.00 314.29,190.50 314.40,191.00 314.51,191.50 314.61,192.00 314.71,192.50 314.80,193.00 314.89,193.50 314.98,194.00 315.07,194.50 315.15,195.00 315.23,195.50 315.30,196.00 315.37,196.50 315.44,197.00 315.50,197.50 315.56,198.00 315.62,198.50 315.68,199.00 315.73,199.50 315.79,200.00 315.84,200.50 315.89,201.00 315.95,201.50 316.00,202.00 316.05,202.50 316.10,203.00 316.15,203.50 316.20,204.00 316.25,204.50 316.30,205.00 316.34,205.50 316.39,206.00 316.44,206.50 316.49,207.00 316.54,207.50 316.60,208.00 316.66,208.50 316.72,209.00 316.78,209.50 316.84,210.00 316.91,210.50 316.97,211.00 317.04,211.50 317.11,212.00 317.18,212.50 317.25,213.00 317.32,213.50 317.40,214.00 317.49,214.50 317.59,215.00 317.70,215.50 317.82,216.00 317.93,216.50 318.04,217.00 318.13,217.50 318.21,218.00 318.26,218.50 318.28,219.00 318.28,219.50 318.29,220.00 318.29,220.50 318.30,221.00 318.30,221.50 318.30,222.00 318.31,222.50 318.31,223.00 318.31,223.50 318.32,224.00 318.32,224.50 318.32,225.00 318.33,225.50 318.33,226.00 318.33,226.50 318.33,227.00 318.33,227.50 318.34,228.00 318.34,228.50 318.34,229.00 318.34,229.50 318.34,230.00 318.34,230.50 318.34,231.00 318.35,231.50 318.35,232.00 318.35,232.50 318.35,233.00 318.35,233.50 318.35,234.00 318.35,234.50 318.35,235.00 318.35,235.50 318.35,236.00 318.35,236.50 318.35,237.00 318.45,237.00 318.45,236.50 318.45,236.00 318.45,235.50 318.45,235.00 318.45,234.50 318.45,234.00 318.45,233.50 318.45,233.00 318.45,232.50 318.45,232.00 318.45,231.50 318.46,231.00 318.46,230.50 318.46,230.00 318.46,229.50 318.46,229.00 318.46,228.50 318.46,228.00 318.47,227.50 318.47,227.00 318.47,226.50 318.47,226.00 318.47,225.50 318.48,225.00 318.48,224.50 318.48,224.00 318.49,223.50 318.49,223.00 318.49,222.50 318.50,222.00 318.50,221.50 318.50,221.00 318.51,220.50 318.51,220.00 318.52,219.50 318.52,219.00 318.54,218.50 318.59,218.00 318.67,217.50 318.76,217.00 318.87,216.50 318.98,216.00 319.10,215.50 319.21,215.00 319.31,214.50 319.40,214.00 319.48,213.50 319.55,213.00 319.62,212.50 319.69,212.00 319.76,211.50 319.83,211.00 319.89,210.50 319.96,210.00 320.02,209.50 320.08,209.00 320.14,208.50 320.20,208.00 320.26,207.50 320.31,207.00 320.36,206.50 320.41,206.00 320.46,205.50 320.50,205.00 320.55,204.50 320.60,204.00 320.65,203.50 320.70,203.00 320.75,202.50 320.80,202.00 320.85,201.50 320.91,201.00 320.96,200.50 321.01,200.00 321.07,199.50 321.12,199.00 321.18,198.50 321.24,198.00 321.30,197.50 321.36,197.00 321.43,196.50 321.50,196.00 321.57,195.50 321.65,195.00 321.73,194.50 321.82,194.00 321.91,193.50 322.00,193.00 322.09,192.50 322.19,192.00 322.29,191.50 322.40,191.00 322.51,190.50 322.62,190.00 322.74,189.50 322.86,189.00 322.99,188.50 323.12,188.00 323.25,187.50 323.39,187.00 323.53,186.50 323.67,186.00 323.81,185.50 323.96,185.00 324.11,184.50 324.27,184.00 324.42,183.50 324.58,183.00 324.74,182.50 324.90,182.00 325.07,181.50 325.24,181.00 325.42,180.50 325.61,180.00 325.80,179.50 326.00,179.00 326.20,178.50 326.41,178.00 326.61,177.50 326.82,177.00 327.02,176.50 327.23,176.00 327.43,175.50 327.64,175.00 327.83,174.50 328.03,174.00 328.22,173.50 328.40,173.00 328.58,172.50 328.75,172.00 328.92,171.50 329.09,171.00 329.26,170.50 329.42,170.00 329.58,169.50 329.75,169.00 329.91,168.50 330.07,168.00 330.23,167.50 330.39,167.00 330.55,166.50 330.72,166.00 330.88,165.50 331.05,165.00 331.23,164.50 331.40,164.00 331.58,163.50 331.76,163.00 331.94,162.50 332.12,162.00 332.30,161.50 332.49,161.00 332.67,160.50 332.86,160.00 333.05,159.50 333.24,159.00 333.43,158.50 333.62,158.00 333.81,157.50 334.01,157.00 334.20,156.50 334.40,156.00 334.60,155.50 334.80,155.00 335.01,154.50 335.22,154.00 335.43,153.50 335.65,153.00 335.87,152.50 336.09,152.00 336.31,151.50 336.53,151.00 336.75,150.50 336.97,150.00 337.19,149.50 337.41,149.00 337.62,148.50 337.83,148.00 338.05,147.50 338.25,147.00 338.46,146.50 338.66,146.00 338.85,145.50 339.04,145.00 339.22,144.50 339.40,144.00 339.58,143.50 339.76,143.00 339.96,142.50 340.15,142.00 340.35,141.50 340.55,141.00 340.76,140.50 340.96,140.00 341.15,139.50 341.34,139.00 341.53,138.50 341.71,138.00 341.87,137.50 342.03,137.00 342.17,136.50 342.30,136.00 342.42,135.50 342.52,135.00 342.59,134.50 342.65,134.00 342.69,133.50 342.70,133.00 342.68,132.50 342.64,132.00 342.57,131.50 342.48,131.00 342.36,130.50 342.23,130.00 342.07,129.50 341.91,129.00 341.73,128.50 341.54,128.00 341.34,127.50 341.13,127.00 340.92,126.50 340.71,126.00 340.50,125.50 340.30,125.00 340.09,124.50 339.90,124.00 339.71,123.50 339.50,123.00 339.29,122.50 339.07,122.00 338.85,121.50 338.62,121.00 338.38,120.50 338.14,120.00 337.89,119.50 337.63,119.00 337.38,118.50 337.12,118.00 336.86,117.50 336.59,117.00 336.33,116.50 336.06,116.00 335.80,115.50 335.53,115.00 335.26,114.50 335.00,114.00 334.74,113.50 334.47,113.00 334.21,112.50 333.95,112.00 333.68,111.50 333.42,111.00 333.15,110.50 332.88,110.00 332.60,109.50 332.33,109.00 332.05,108.50 331.76,108.00 331.48,107.50 331.18,107.00 330.88,106.50 330.58,106.00 330.27,105.50 329.95,105.00 329.63,104.50 329.30,104.00 328.95,103.50 328.58,103.00 328.19,102.50 327.79,102.00 327.37,101.50 326.96,101.00 326.54,100.50 326.12,100.00 325.72,99.50 325.33,99.00 324.95,98.50 324.60,98.00 324.26,97.50 323.92,97.00 323.58,96.50 323.25,96.00 322.93,95.50 322.62,95.00 322.33,94.50 322.06,94.00 321.82,93.50 321.60,93.00 321.40,92.50 321.22,92.00 321.04,91.50 320.88,91.00 320.72,90.50 320.58,90.00 320.44,89.50 320.32,89.00 320.20,88.50 320.10,88.00 320.00,87.50 319.91,87.00 319.82,86.50 319.73,86.00 319.64,85.50 319.56,85.00 319.48,84.50 319.41,84.00 319.34,83.50 319.27,83.00 319.21,82.50 319.16,82.00 319.11,81.50 319.06,81.00 319.03,80.50 319.00,80.00 318.98,79.50 318.95,79.00 318.93,78.50 318.91,78.00 318.89,77.50 318.87,77.00 318.85,76.50 318.83,76.00 318.82,75.50 318.80,75.00 318.79,74.50 318.77,74.00 318.76,73.50 318.75,73.00 318.74,72.50 318.73,72.00 318.72,71.50 318.71,71.00 318.71,70.50 318.70,70.00 318.69,69.50 318.69,69.00 318.68,68.50 318.68,68.00 318.67,67.50 318.67,67.00 318.66,66.50 318.66,66.00 318.65,65.50 318.65,65.00 318.64,64.50 318.64,64.00 318.63,63.50 318.63,63.00 318.63,62.50 318.62,62.00 318.62,61.50 318.61,61.00 318.61,60.50 318.60,60.00 318.60,59.50 318.60,59.00 318.59,58.50 318.59,58.00 318.58,57.50 318.58,57.00 318.58,56.50 318.57,56.00 318.57,55.50 318.56,55.00 318.56,54.50 318.56,54.00 318.55,53.50 318.55,53.00 318.55,52.50 318.54,52.00 318.54,51.50 318.54,51.00 318.53,50.50 318.53,50.00 318.53,49.50 318.52,49.00 318.52,48.50 318.52,48.00 318.52,47.50 318.51,47.00 318.51,46.50 318.51,46.00 318.50,45.50 318.50,45.00 318.50,44.50 318.50,44.00 318.50,43.50 318.49,43.00 318.49,42.50 318.49,42.00 318.49,41.50 318.48,41.00 318.48,40.50 318.48,40.00 318.48,39.50 318.48,39.00 318.48,38.50 318.47,38.00 318.47,37.50 318.47,37.00 318.47,36.50 318.47,36.00 318.47,35.50 318.46,35.00 318.46,34.50 318.46,34.00 318.46,33.50 318.46,33.00 318.46,32.50 318.46,32.00 318.46,31.50 318.46,31.00 318.46,30.50 318.45,30.00 318.45,29.50 318.45,29.00 318.45,28.50 318.45,28.00 318.45,27.50 318.45,27.00 318.45,26.50 318.45,26.00 318.45,25.50 318.45,25.00 318.45,24.50 318.45,24.00" fill="#dddddd" stroke="#8a8a8a" stroke-width="0.7" stroke-linejoin="round"/>
<line x1="318.40" y1="78.86" x2="318.40" y2="123.33" stroke="#a4a4a4" stroke-width="0.75"/>
<line x1="318.40" y1="152.98" x2="318.40" y2="212.28" stroke="#a4a4a4" stroke-width="0.75"/>
<rect x="311.95" y="123.33" width="12.90" height="29.65" fill="#747474"/>
<line x1="311.95" y1="138.16" x2="324.85" y2="138.16" stroke="#363636" stroke-width="1.15"/>
<line x1="318.40" y1="24.00" x2="318.40" y2="80.00" stroke="#707070" stroke-width="0.9"/>
<line x1="318.40" y1="220.00" x2="318.40" y2="237.50" stroke="#989898" stroke-width="0.8"/>
<circle cx="318.40" cy="41.80" r="1.15" fill="#1a1a1a"/>
<circle cx="318.40" cy="219.69" r="1.15" fill="#1a1a1a"/>
<polygon points="382.05,35.00 382.05,35.50 382.05,36.00 382.05,36.50 382.05,37.00 382.05,37.50 382.05,38.00 382.05,38.50 382.05,39.00 382.05,39.50 382.05,40.00 382.04,40.50 382.04,41.00 382.04,41.50 382.04,42.00 382.04,42.50 382.04,43.00 382.04,43.50 382.03,44.00 382.03,44.50 382.03,45.00 382.03,45.50 382.03,46.00 382.02,46.50 382.02,47.00 382.02,47.50 382.02,48.00 382.01,48.50 382.01,49.00 382.01,49.50 382.00,50.00 382.00,50.50 382.00,51.00 382.00,51.50 381.99,52.00 381.99,52.50 381.98,53.00 381.98,53.50 381.98,54.00 381.97,54.50 381.97,55.00 381.97,55.50 381.96,56.00 381.96,56.50 381.95,57.00 381.95,57.50 381.94,58.00 381.94,58.50 381.93,59.00 381.93,59.50 381.92,60.00 381.92,60.50 381.91,61.00 381.91,61.50 381.90,62.00 381.90,62.50 381.89,63.00 381.89,63.50 381.88,64.00 381.87,64.50 381.87,65.00 381.86,65.50 381.85,66.00 381.85,66.50 381.84,67.00 381.83,67.50 381.83,68.00 381.82,68.50 381.81,69.00 381.81,69.50 381.80,70.00 381.79,70.50 381.78,71.00 381.77,71.50 381.76,72.00 381.74,72.50 381.72,73.00 381.70,73.50 381.68,74.00 381.66,74.50 381.63,75.00 381.61,75.50 381.58,76.00 381.55,76.50 381.52,77.00 381.49,77.50 381.45,78.00 381.42,78.50 381.38,79.00 381.34,79.50 381.30,80.00 381.25,80.50 381.20,81.00 381.13,81.50 381.05,82.00 380.97,82.50 380.87,83.00 380.77,83.50 380.67,84.00 380.56,84.50 380.44,85.00 380.32,85.50 380.20,86.00 380.07,86.50 379.92,87.00 379.76,87.50 379.59,88.00 379.41,88.50 379.21,89.00 379.01,89.50 378.80,90.00 378.58,90.50 378.36,91.00 378.13,91.50 377.90,92.00 377.66,92.50 377.41,93.00 377.14,93.50 376.86,94.00 376.57,94.50 376.26,95.00 375.94,95.50 375.60,96.00 375.23,96.50 374.81,97.00 374.36,97.50 373.90,98.00 373.43,98.50 372.96,99.00 372.52,99.50 372.10,100.00 371.71,100.50 371.34,101.00 370.99,101.50 370.64,102.00 370.30,102.50 369.97,103.00 369.63,103.50 369.29,104.00 368.94,104.50 368.58,105.00 368.20,105.50 367.80,106.00 367.38,106.50 366.93,107.00 366.46,107.50 365.98,108.00 365.48,108.50 364.98,109.00 364.48,109.50 363.98,110.00 363.49,110.50 363.01,111.00 362.54,111.50 362.10,112.00 361.67,112.50 361.24,113.00 360.81,113.50 360.38,114.00 359.96,114.50 359.55,115.00 359.15,115.50 358.77,116.00 358.40,116.50 358.04,117.00 357.71,117.50 357.40,118.00 357.10,118.50 356.81,119.00 356.52,119.50 356.23,120.00 355.96,120.50 355.70,121.00 355.45,121.50 355.22,122.00 355.00,122.50 354.81,123.00 354.64,123.50 354.50,124.00 354.37,124.50 354.24,125.00 354.12,125.50 354.00,126.00 353.89,126.50 353.79,127.00 353.71,127.50 353.65,128.00 353.61,128.50 353.60,129.00 353.61,129.50 353.64,130.00 353.70,130.50 353.76,131.00 353.84,131.50 353.92,132.00 354.01,132.50 354.10,133.00 354.20,133.50 354.31,134.00 354.45,134.50 354.59,135.00 354.76,135.50 354.94,136.00 355.13,136.50 355.34,137.00 355.56,137.50 355.80,138.00 356.08,138.50 356.43,139.00 356.83,139.50 357.28,140.00 357.76,140.50 358.27,141.00 358.79,141.50 359.32,142.00 359.85,142.50 360.36,143.00 360.85,143.50 361.30,144.00 361.73,144.50 362.16,145.00 362.58,145.50 363.00,146.00 363.41,146.50 363.81,147.00 364.21,147.50 364.60,148.00 364.99,148.50 365.38,149.00 365.76,149.50 366.14,150.00 366.51,150.50 366.86,151.00 367.19,151.50 367.50,152.00 367.79,152.50 368.06,153.00 368.33,153.50 368.59,154.00 368.83,154.50 369.07,155.00 369.31,155.50 369.54,156.00 369.76,156.50 369.98,157.00 370.20,157.50 370.42,158.00 370.64,158.50 370.86,159.00 371.08,159.50 371.30,160.00 371.52,160.50 371.75,161.00 371.97,161.50 372.19,162.00 372.42,162.50 372.64,163.00 372.85,163.50 373.07,164.00 373.28,164.50 373.49,165.00 373.70,165.50 373.90,166.00 374.10,166.50 374.30,167.00 374.49,167.50 374.69,168.00 374.88,168.50 375.08,169.00 375.27,169.50 375.46,170.00 375.64,170.50 375.82,171.00 376.00,171.50 376.17,172.00 376.34,172.50 376.50,173.00 376.65,173.50 376.80,174.00 376.94,174.50 377.09,175.00 377.23,175.50 377.37,176.00 377.50,176.50 377.64,177.00 377.77,177.50 377.90,178.00 378.02,178.50 378.14,179.00 378.25,179.50 378.35,180.00 378.45,180.50 378.54,181.00 378.63,181.50 378.70,182.00 378.77,182.50 378.83,183.00 378.89,183.50 378.95,184.00 379.00,184.50 379.05,185.00 379.10,185.50 379.15,186.00 379.20,186.50 379.24,187.00 379.28,187.50 379.33,188.00 379.37,188.50 379.41,189.00 379.46,189.50 379.50,190.00 379.54,190.50 379.58,191.00 379.62,191.50 379.66,192.00 379.69,192.50 379.73,193.00 379.76,193.50 379.80,194.00 379.85,194.50 379.89,195.00 379.94,195.50 380.00,196.00 380.07,196.50 380.16,197.00 380.26,197.50 380.37,198.00 380.48,198.50 380.59,199.00 380.70,199.50 380.80,200.00 380.89,200.50 380.98,201.00 381.07,201.50 381.16,202.00 381.24,202.50 381.33,203.00 381.41,203.50 381.50,204.00 381.60,204.50 381.71,205.00 381.82,205.50 381.92,206.00 381.99,206.50 382.02,207.00 382.02,207.50 382.02,208.00 382.02,208.50 382.03,209.00 382.03,209.50 382.03,210.00 382.03,210.50 382.03,211.00 382.03,211.50 382.03,212.00 382.03,212.50 382.04,213.00 382.04,213.50 382.04,214.00 382.04,214.50 382.04,215.00 382.04,215.50 382.04,216.00 382.04,216.50 382.04,217.00 382.04,217.50 382.04,218.00 382.04,218.50 382.04,219.00 382.05,219.50 382.05,220.00 382.05,220.50 382.05,221.00 382.05,221.50 382.05,222.00 382.05,222.50 382.05,223.00 382.05,223.50 382.05,224.00 382.05,224.50 382.05,225.00 382.05,225.50 382.05,226.00 382.05,226.50 382.05,227.00 382.05,227.50 382.05,228.00 382.05,228.50 382.05,229.00 382.05,229.50 382.05,230.00 382.05,230.50 382.05,231.00 382.05,231.50 382.15,231.50 382.15,231.00 382.15,230.50 382.15,230.00 382.15,229.50 382.15,229.00 382.15,228.50 382.15,228.00 382.15,227.50 382.15,227.00 382.15,226.50 382.15,226.00 382.15,225.50 382.15,225.00 382.15,224.50 382.15,224.00 382.15,223.50 382.15,223.00 382.15,222.50 382.15,222.00 382.15,221.50 382.15,221.00 382.15,220.50 382.15,220.00 382.15,219.50 382.16,219.00 382.16,218.50 382.16,218.00 382.16,217.50 382.16,217.00 382.16,216.50 382.16,216.00 382.16,215.50 382.16,215.00 382.16,214.50 382.16,214.00 382.16,213.50 382.16,213.00 382.17,212.50 382.17,212.00 382.17,211.50 382.17,211.00 382.17,210.50 382.17,210.00 382.17,209.50 382.17,209.00 382.18,208.50 382.18,208.00 382.18,207.50 382.18,207.00 382.21,206.50 382.28,206.00 382.38,205.50 382.49,205.00 382.60,204.50 382.70,204.00 382.79,203.50 382.87,203.00 382.96,202.50 383.04,202.00 383.13,201.50 383.22,201.00 383.31,200.50 383.40,200.00 383.50,199.50 383.61,199.00 383.72,198.50 383.83,198.00 383.94,197.50 384.04,197.00 384.13,196.50 384.20,196.00 384.26,195.50 384.31,195.00 384.35,194.50 384.40,194.00 384.44,193.50 384.47,193.00 384.51,192.50 384.54,192.00 384.58,191.50 384.62,191.00 384.66,190.50 384.70,190.00 384.74,189.50 384.79,189.00 384.83,188.50 384.87,188.00 384.92,187.50 384.96,187.00 385.00,186.50 385.05,186.00 385.10,185.50 385.15,185.00 385.20,184.50 385.25,184.00 385.31,183.50 385.37,183.00 385.43,182.50 385.50,182.00 385.57,181.50 385.66,181.00 385.75,180.50 385.85,180.00 385.95,179.50 386.06,179.00 386.18,178.50 386.30,178.00 386.43,177.50 386.56,177.00 386.70,176.50 386.83,176.00 386.97,175.50 387.11,175.00 387.26,174.50 387.40,174.00 387.55,173.50 387.70,173.00 387.86,172.50 388.03,172.00 388.20,171.50 388.38,171.00 388.56,170.50 388.74,170.00 388.93,169.50 389.12,169.00 389.32,168.50 389.51,168.00 389.71,167.50 389.90,167.00 390.10,166.50 390.30,166.00 390.50,165.50 390.71,165.00 390.92,164.50 391.13,164.00 391.35,163.50 391.56,163.00 391.78,162.50 392.01,162.00 392.23,161.50 392.45,161.00 392.68,160.50 392.90,160.00 393.12,159.50 393.34,159.00 393.56,158.50 393.78,158.00 394.00,157.50 394.22,157.00 394.44,156.50 394.66,156.00 394.89,155.50 395.13,155.00 395.37,154.50 395.61,154.00 395.87,153.50 396.14,153.00 396.41,152.50 396.70,152.00 397.01,151.50 397.34,151.00 397.69,150.50 398.06,150.00 398.44,149.50 398.82,149.00 399.21,148.50 399.60,148.00 399.99,147.50 400.39,147.00 400.79,146.50 401.20,146.00 401.62,145.50 402.04,145.00 402.47,144.50 402.90,144.00 403.35,143.50 403.84,143.00 404.35,142.50 404.88,142.00 405.41,141.50 405.93,141.00 406.44,140.50 406.92,140.00 407.37,139.50 407.77,139.00 408.12,138.50 408.40,138.00 408.64,137.50 408.86,137.00 409.07,136.50 409.26,136.00 409.44,135.50 409.61,135.00 409.75,134.50 409.89,134.00 410.00,133.50 410.10,133.00 410.19,132.50 410.28,132.00 410.36,131.50 410.44,131.00 410.50,130.50 410.56,130.00 410.59,129.50 410.60,129.00 410.59,128.50 410.55,128.00 410.49,127.50 410.41,127.00 410.31,126.50 410.20,126.00 410.08,125.50 409.96,125.00 409.83,124.50 409.70,124.00 409.56,123.50 409.39,123.00 409.20,122.50 408.98,122.00 408.75,121.50 408.50,121.00 408.24,120.50 407.97,120.00 407.68,119.50 407.39,119.00 407.10,118.50 406.80,118.00 406.49,117.50 406.16,117.00 405.80,116.50 405.43,116.00 405.05,115.50 404.65,115.00 404.24,114.50 403.82,114.00 403.39,113.50 402.96,113.00 402.53,112.50 402.10,112.00 401.66,111.50 401.19,111.00 400.71,110.50 400.22,110.00 399.72,109.50 399.22,109.00 398.72,108.50 398.22,108.00 397.74,107.50 397.27,107.00 396.82,106.50 396.40,106.00 396.00,105.50 395.62,105.00 395.26,104.50 394.91,104.00 394.57,103.50 394.23,103.00 393.90,102.50 393.56,102.00 393.21,101.50 392.86,101.00 392.49,100.50 392.10,100.00 391.68,99.50 391.24,99.00 390.77,98.50 390.30,98.00 389.84,97.50 389.39,97.00 388.97,96.50 388.60,96.00 388.26,95.50 387.94,95.00 387.63,94.50 387.34,94.00 387.06,93.50 386.79,93.00 386.54,92.50 386.30,92.00 386.07,91.50 385.84,91.00 385.62,90.50 385.40,90.00 385.19,89.50 384.99,89.00 384.79,88.50 384.61,88.00 384.44,87.50 384.28,87.00 384.13,86.50 384.00,86.00 383.88,85.50 383.76,85.00 383.64,84.50 383.53,84.00 383.43,83.50 383.33,83.00 383.23,82.50 383.15,82.00 383.07,81.50 383.00,81.00 382.95,80.50 382.90,80.00 382.86,79.50 382.82,79.00 382.78,78.50 382.75,78.00 382.71,77.50 382.68,77.00 382.65,76.50 382.62,76.00 382.59,75.50 382.57,75.00 382.54,74.50 382.52,74.00 382.50,73.50 382.48,73.00 382.46,72.50 382.44,72.00 382.43,71.50 382.42,71.00 382.41,70.50 382.40,70.00 382.39,69.50 382.39,69.00 382.38,68.50 382.37,68.00 382.37,67.50 382.36,67.00 382.35,66.50 382.35,66.00 382.34,65.50 382.33,65.00 382.33,64.50 382.32,64.00 382.31,63.50 382.31,63.00 382.30,62.50 382.30,62.00 382.29,61.50 382.29,61.00 382.28,60.50 382.28,60.00 382.27,59.50 382.27,59.00 382.26,58.50 382.26,58.00 382.25,57.50 382.25,57.00 382.24,56.50 382.24,56.00 382.23,55.50 382.23,55.00 382.23,54.50 382.22,54.00 382.22,53.50 382.22,53.00 382.21,52.50 382.21,52.00 382.20,51.50 382.20,51.00 382.20,50.50 382.20,50.00 382.19,49.50 382.19,49.00 382.19,48.50 382.18,48.00 382.18,47.50 382.18,47.00 382.18,46.50 382.17,46.00 382.17,45.50 382.17,45.00 382.17,44.50 382.17,44.00 382.16,43.50 382.16,43.00 382.16,42.50 382.16,42.00 382.16,41.50 382.16,41.00 382.16,40.50 382.15,40.00 382.15,39.50 382.15,39.00 382.15,38.50 382.15,38.00 382.15,37.50 382.15,37.00 382.15,36.50 382.15,36.00 382.15,35.50 382.15,35.00" fill="#dddddd" stroke="#8a8a8a" stroke-width="0.7" stroke-linejoin="round"/>
<line x1="382.10" y1="71.45" x2="382.10" y2="115.92" stroke="#a4a4a4" stroke-width="0.75"/>
<line x1="382.10" y1="145.57" x2="382.10" y2="212.28" stroke="#a4a4a4" stroke-width="0.75"/>
<rect x="375.65" y="115.92" width="12.90" height="29.65" fill="#747474"/>
<line x1="375.65" y1="130.74" x2="388.55" y2="130.74" stroke="#363636" stroke-width="1.15"/>
<line x1="382.10" y1="207.00" x2="382.10" y2="231.50" stroke="#989898" stroke-width="0.8"/>
<circle cx="382.10" cy="49.21" r="1.15" fill="#1a1a1a"/>
<circle cx="382.10" cy="219.69" r="1.15" fill="#1a1a1a"/>
<polygon points="445.30,45.00 445.30,45.50 445.30,46.00 445.30,46.50 445.30,47.00 445.30,47.50 445.30,48.00 445.30,48.50 445.29,49.00 445.29,49.50 445.29,50.00 445.29,50.50 445.29,51.00 445.28,51.50 445.28,52.00 445.28,52.50 445.27,53.00 445.27,53.50 445.27,54.00 445.26,54.50 445.26,55.00 445.26,55.50 445.25,56.00 445.25,56.50 445.24,57.00 445.24,57.50 445.23,58.00 445.23,58.50 445.22,59.00 445.21,59.50 445.21,60.00 445.20,60.50 445.19,61.00 445.19,61.50 445.18,62.00 445.17,62.50 445.16,63.00 445.16,63.50 445.15,64.00 445.14,64.50 445.13,65.00 445.12,65.50 445.11,66.00 445.10,66.50 445.09,67.00 445.08,67.50 445.07,68.00 445.06,68.50 445.05,69.00 445.04,69.50 445.03,70.00 445.02,70.50 445.01,71.00 444.99,71.50 444.98,72.00 444.97,72.50 444.96,73.00 444.94,73.50 444.93,74.00 444.91,74.50 444.90,75.00 444.88,75.50 444.85,76.00 444.81,76.50 444.77,77.00 444.71,77.50 444.65,78.00 444.58,78.50 444.51,79.00 444.43,79.50 444.35,80.00 444.26,80.50 444.17,81.00 444.08,81.50 443.98,82.00 443.89,82.50 443.79,83.00 443.70,83.50 443.60,84.00 443.50,84.50 443.38,85.00 443.24,85.50 443.10,86.00 442.94,86.50 442.78,87.00 442.62,87.50 442.45,88.00 442.29,88.50 442.13,89.00 441.98,89.50 441.83,90.00 441.70,90.50 441.58,91.00 441.48,91.50 441.40,92.00 441.33,92.50 441.27,93.00 441.22,93.50 441.18,94.00 441.14,94.50 441.09,95.00 441.05,95.50 441.01,96.00 440.97,96.50 440.92,97.00 440.86,97.50 440.80,98.00 440.73,98.50 440.65,99.00 440.56,99.50 440.47,100.00 440.36,100.50 440.25,101.00 440.13,101.50 440.00,102.00 439.86,102.50 439.70,103.00 439.53,103.50 439.34,104.00 439.13,104.50 438.90,105.00 438.66,105.50 438.40,106.00 438.10,106.50 437.75,107.00 437.36,107.50 436.93,108.00 436.48,108.50 436.02,109.00 435.56,109.50 435.10,110.00 434.64,110.50 434.15,111.00 433.66,111.50 433.15,112.00 432.63,112.50 432.12,113.00 431.61,113.50 431.10,114.00 430.59,114.50 430.08,115.00 429.56,115.50 429.04,116.00 428.53,116.50 428.03,117.00 427.55,117.50 427.10,118.00 426.67,118.50 426.24,119.00 425.82,119.50 425.42,120.00 425.03,120.50 424.67,121.00 424.32,121.50 424.00,122.00 423.69,122.50 423.39,123.00 423.10,123.50 422.81,124.00 422.54,124.50 422.28,125.00 422.05,125.50 421.84,126.00 421.65,126.50 421.50,127.00 421.36,127.50 421.23,128.00 421.10,128.50 420.97,129.00 420.85,129.50 420.75,130.00 420.65,130.50 420.56,131.00 420.50,131.50 420.44,132.00 420.41,132.50 420.40,133.00 420.41,133.50 420.42,134.00 420.45,134.50 420.49,135.00 420.53,135.50 420.58,136.00 420.64,136.50 420.71,137.00 420.78,137.50 420.85,138.00 420.92,138.50 421.00,139.00 421.09,139.50 421.21,140.00 421.34,140.50 421.49,141.00 421.66,141.50 421.84,142.00 422.03,142.50 422.22,143.00 422.41,143.50 422.60,144.00 422.79,144.50 423.00,145.00 423.21,145.50 423.43,146.00 423.66,146.50 423.90,147.00 424.14,147.50 424.39,148.00 424.64,148.50 424.89,149.00 425.15,149.50 425.40,150.00 425.65,150.50 425.90,151.00 426.15,151.50 426.40,152.00 426.65,152.50 426.89,153.00 427.15,153.50 427.40,154.00 427.66,154.50 427.91,155.00 428.17,155.50 428.43,156.00 428.68,156.50 428.94,157.00 429.19,157.50 429.44,158.00 429.69,158.50 429.93,159.00 430.17,159.50 430.40,160.00 430.63,160.50 430.86,161.00 431.08,161.50 431.31,162.00 431.53,162.50 431.75,163.00 431.96,163.50 432.18,164.00 432.39,164.50 432.60,165.00 432.80,165.50 433.00,166.00 433.20,166.50 433.40,167.00 433.59,167.50 433.78,168.00 433.95,168.50 434.13,169.00 434.30,169.50 434.47,170.00 434.64,170.50 434.80,171.00 434.98,171.50 435.15,172.00 435.33,172.50 435.51,173.00 435.70,173.50 435.90,174.00 436.11,174.50 436.33,175.00 436.56,175.50 436.80,176.00 437.05,176.50 437.31,177.00 437.56,177.50 437.83,178.00 438.09,178.50 438.35,179.00 438.62,179.50 438.88,180.00 439.14,180.50 439.39,181.00 439.63,181.50 439.87,182.00 440.09,182.50 440.31,183.00 440.51,183.50 440.70,184.00 440.88,184.50 441.06,185.00 441.24,185.50 441.41,186.00 441.58,186.50 441.75,187.00 441.90,187.50 442.05,188.00 442.18,188.50 442.30,189.00 442.41,189.50 442.50,190.00 442.58,190.50 442.65,191.00 442.72,191.50 442.77,192.00 442.83,192.50 442.88,193.00 442.93,193.50 442.98,194.00 443.03,194.50 443.08,195.00 443.14,195.50 443.20,196.00 443.27,196.50 443.34,197.00 443.41,197.50 443.49,198.00 443.57,198.50 443.65,199.00 443.72,199.50 443.79,200.00 443.85,200.50 443.90,201.00 443.95,201.50 444.00,202.00 444.05,202.50 444.10,203.00 444.14,203.50 444.17,204.00 444.19,204.50 444.20,205.00 444.19,205.50 444.18,206.00 444.16,206.50 444.13,207.00 444.09,207.50 444.05,208.00 444.02,208.50 443.98,209.00 443.94,209.50 443.90,210.00 443.86,210.50 443.81,211.00 443.76,211.50 443.71,212.00 443.66,212.50 443.61,213.00 443.56,213.50 443.53,214.00 443.51,214.50 443.50,215.00 443.50,215.50 443.50,216.00 443.50,216.50 443.50,217.00 443.50,217.50 443.50,218.00 443.50,218.50 443.50,219.00 443.50,219.50 443.52,220.00 443.59,220.50 443.68,221.00 443.79,221.50 443.90,222.00 444.01,222.50 444.10,223.00 444.18,223.50 444.26,224.00 444.34,224.50 444.42,225.00 444.50,225.50 444.57,226.00 444.64,226.50 444.70,227.00 444.76,227.50 444.82,228.00 444.88,228.50 444.93,229.00 444.98,229.50 445.03,230.00 445.07,230.50 445.10,231.00 445.13,231.50 445.16,232.00 445.19,232.50 445.22,233.00 445.24,233.50 445.27,234.00 445.29,234.50 445.31,235.00 445.32,235.50 445.34,236.00 445.34,236.50 445.35,237.00 445.45,237.00 445.46,236.50 445.46,236.00 445.48,235.50 445.49,235.00 445.51,234.50 445.53,234.00 445.56,233.50 445.58,233.00 445.61,232.50 445.64,232.00 445.67,231.50 445.70,231.00 445.73,230.50 445.77,230.00 445.82,229.50 445.87,229.00 445.92,228.50 445.98,228.00 446.04,227.50 446.10,227.00 446.16,226.50 446.23,226.00 446.30,225.50 446.38,225.00 446.46,224.50 446.54,224.00 446.62,223.50 446.70,223.00 446.79,222.50 446.90,222.00 447.01,221.50 447.12,221.00 447.21,220.50 447.28,220.00 447.30,219.50 447.30,219.00 447.30,218.50 447.30,218.00 447.30,217.50 447.30,217.00 447.30,216.50 447.30,216.00 447.30,215.50 447.30,215.00 447.29,214.50 447.27,214.00 447.24,213.50 447.19,213.00 447.14,212.50 447.09,212.00 447.04,211.50 446.99,211.00 446.94,210.50 446.90,210.00 446.86,209.50 446.82,209.00 446.78,208.50 446.75,208.00 446.71,207.50 446.67,207.00 446.64,206.50 446.62,206.00 446.61,205.50 446.60,205.00 446.61,204.50 446.63,204.00 446.66,203.50 446.70,203.00 446.75,202.50 446.80,202.00 446.85,201.50 446.90,201.00 446.95,200.50 447.01,200.00 447.08,199.50 447.15,199.00 447.23,198.50 447.31,198.00 447.39,197.50 447.46,197.00 447.53,196.50 447.60,196.00 447.66,195.50 447.72,195.00 447.77,194.50 447.82,194.00 447.87,193.50 447.92,193.00 447.97,192.50 448.03,192.00 448.08,191.50 448.15,191.00 448.22,190.50 448.30,190.00 448.39,189.50 448.50,189.00 448.62,188.50 448.75,188.00 448.90,187.50 449.05,187.00 449.22,186.50 449.39,186.00 449.56,185.50 449.74,185.00 449.92,184.50 450.10,184.00 450.29,183.50 450.49,183.00 450.71,182.50 450.93,182.00 451.17,181.50 451.41,181.00 451.66,180.50 451.92,180.00 452.18,179.50 452.45,179.00 452.71,178.50 452.97,178.00 453.24,177.50 453.49,177.00 453.75,176.50 454.00,176.00 454.24,175.50 454.47,175.00 454.69,174.50 454.90,174.00 455.10,173.50 455.29,173.00 455.47,172.50 455.65,172.00 455.82,171.50 456.00,171.00 456.16,170.50 456.33,170.00 456.50,169.50 456.67,169.00 456.85,168.50 457.02,168.00 457.21,167.50 457.40,167.00 457.60,166.50 457.80,166.00 458.00,165.50 458.20,165.00 458.41,164.50 458.62,164.00 458.84,163.50 459.05,163.00 459.27,162.50 459.49,162.00 459.72,161.50 459.94,161.00 460.17,160.50 460.40,160.00 460.63,159.50 460.87,159.00 461.11,158.50 461.36,158.00 461.61,157.50 461.86,157.00 462.12,156.50 462.37,156.00 462.63,155.50 462.89,155.00 463.14,154.50 463.40,154.00 463.65,153.50 463.91,153.00 464.15,152.50 464.40,152.00 464.65,151.50 464.90,151.00 465.15,150.50 465.40,150.00 465.65,149.50 465.91,149.00 466.16,148.50 466.41,148.00 466.66,147.50 466.90,147.00 467.14,146.50 467.37,146.00 467.59,145.50 467.80,145.00 468.01,144.50 468.20,144.00 468.39,143.50 468.58,143.00 468.77,142.50 468.96,142.00 469.14,141.50 469.31,141.00 469.46,140.50 469.59,140.00 469.71,139.50 469.80,139.00 469.88,138.50 469.95,138.00 470.02,137.50 470.09,137.00 470.16,136.50 470.22,136.00 470.27,135.50 470.31,135.00 470.35,134.50 470.38,134.00 470.39,133.50 470.40,133.00 470.39,132.50 470.36,132.00 470.30,131.50 470.24,131.00 470.15,130.50 470.05,130.00 469.95,129.50 469.83,129.00 469.70,128.50 469.57,128.00 469.44,127.50 469.30,127.00 469.15,126.50 468.96,126.00 468.75,125.50 468.52,125.00 468.26,124.50 467.99,124.00 467.70,123.50 467.41,123.00 467.11,122.50 466.80,122.00 466.48,121.50 466.13,121.00 465.77,120.50 465.38,120.00 464.98,119.50 464.56,119.00 464.13,118.50 463.70,118.00 463.25,117.50 462.77,117.00 462.27,116.50 461.76,116.00 461.24,115.50 460.72,115.00 460.21,114.50 459.70,114.00 459.19,113.50 458.68,113.00 458.17,112.50 457.65,112.00 457.14,111.50 456.65,111.00 456.16,110.50 455.70,110.00 455.24,109.50 454.78,109.00 454.32,108.50 453.87,108.00 453.44,107.50 453.05,107.00 452.70,106.50 452.40,106.00 452.14,105.50 451.90,105.00 451.67,104.50 451.46,104.00 451.27,103.50 451.10,103.00 450.94,102.50 450.80,102.00 450.67,101.50 450.55,101.00 450.44,100.50 450.33,100.00 450.24,99.50 450.15,99.00 450.07,98.50 450.00,98.00 449.94,97.50 449.88,97.00 449.83,96.50 449.79,96.00 449.75,95.50 449.71,95.00 449.66,94.50 449.62,94.00 449.58,93.50 449.53,93.00 449.47,92.50 449.40,92.00 449.32,91.50 449.22,91.00 449.10,90.50 448.97,90.00 448.82,89.50 448.67,89.00 448.51,88.50 448.35,88.00 448.18,87.50 448.02,87.00 447.86,86.50 447.70,86.00 447.56,85.50 447.42,85.00 447.30,84.50 447.20,84.00 447.10,83.50 447.01,83.00 446.91,82.50 446.82,82.00 446.72,81.50 446.63,81.00 446.54,80.50 446.45,80.00 446.37,79.50 446.29,79.00 446.22,78.50 446.15,78.00 446.09,77.50 446.03,77.00 445.99,76.50 445.95,76.00 445.92,75.50 445.90,75.00 445.89,74.50 445.87,74.00 445.86,73.50 445.84,73.00 445.83,72.50 445.82,72.00 445.81,71.50 445.79,71.00 445.78,70.50 445.77,70.00 445.76,69.50 445.75,69.00 445.74,68.50 445.73,68.00 445.72,67.50 445.71,67.00 445.70,66.50 445.69,66.00 445.68,65.50 445.67,65.00 445.66,64.50 445.65,64.00 445.64,63.50 445.64,63.00 445.63,62.50 445.62,62.00 445.61,61.50 445.61,61.00 445.60,60.50 445.59,60.00 445.59,59.50 445.58,59.00 445.57,58.50 445.57,58.00 445.56,57.50 445.56,57.00 445.55,56.50 445.55,56.00 445.54,55.50 445.54,55.00 445.54,54.50 445.53,54.00 445.53,53.50 445.53,53.00 445.52,52.50 445.52,52.00 445.52,51.50 445.51,51.00 445.51,50.50 445.51,50.00 445.51,49.50 445.51,49.00 445.50,48.50 445.50,48.00 445.50,47.50 445.50,47.00 445.50,46.50 445.50,46.00 445.50,45.50 445.50,45.00" fill="#dddddd" stroke="#8a8a8a" stroke-width="0.7" stroke-linejoin="round"/>
<line x1="445.40" y1="78.86" x2="445.40" y2="123.33" stroke="#a4a4a4" stroke-width="0.75"/>
<line x1="445.40" y1="152.98" x2="445.40" y2="212.28" stroke="#a4a4a4" stroke-width="0.75"/>
<rect x="438.95" y="123.33" width="12.90" height="29.65" fill="#747474"/>
<line x1="438.95" y1="138.16" x2="451.85" y2="138.16" stroke="#363636" stroke-width="1.15"/>
<line x1="445.40" y1="50.00" x2="445.40" y2="66.00" stroke="#8c8c8c" stroke-width="0.9"/>
<circle cx="445.40" cy="64.04" r="1.15" fill="#1a1a1a"/>
<circle cx="445.40" cy="219.69" r="1.15" fill="#1a1a1a"/>
<polygon points="508.45,30.00 508.45,30.50 508.45,31.00 508.45,31.50 508.45,32.00 508.45,32.50 508.45,33.00 508.45,33.50 508.45,34.00 508.45,34.50 508.45,35.00 508.45,35.50 508.45,36.00 508.44,36.50 508.44,37.00 508.44,37.50 508.44,38.00 508.44,38.50 508.44,39.00 508.44,39.50 508.44,40.00 508.44,40.50 508.43,41.00 508.43,41.50 508.43,42.00 508.43,42.50 508.43,43.00 508.43,43.50 508.42,44.00 508.42,44.50 508.42,45.00 508.42,45.50 508.41,46.00 508.41,46.50 508.41,47.00 508.41,47.50 508.41,48.00 508.40,48.50 508.40,49.00 508.40,49.50 508.39,50.00 508.39,50.50 508.39,51.00 508.38,51.50 508.38,52.00 508.38,52.50 508.37,53.00 508.37,53.50 508.37,54.00 508.36,54.50 508.36,55.00 508.36,55.50 508.35,56.00 508.35,56.50 508.34,57.00 508.34,57.50 508.34,58.00 508.33,58.50 508.33,59.00 508.32,59.50 508.32,60.00 508.31,60.50 508.31,61.00 508.30,61.50 508.30,62.00 508.29,62.50 508.29,63.00 508.28,63.50 508.27,64.00 508.27,64.50 508.26,65.00 508.26,65.50 508.25,66.00 508.25,66.50 508.24,67.00 508.23,67.50 508.23,68.00 508.22,68.50 508.21,69.00 508.21,69.50 508.20,70.00 508.19,70.50 508.18,71.00 508.16,71.50 508.15,72.00 508.13,72.50 508.10,73.00 508.07,73.50 508.04,74.00 508.01,74.50 507.98,75.00 507.94,75.50 507.90,76.00 507.86,76.50 507.81,77.00 507.76,77.50 507.72,78.00 507.66,78.50 507.61,79.00 507.56,79.50 507.50,80.00 507.43,80.50 507.34,81.00 507.24,81.50 507.12,82.00 506.99,82.50 506.85,83.00 506.71,83.50 506.56,84.00 506.41,84.50 506.27,85.00 506.13,85.50 506.00,86.00 505.88,86.50 505.76,87.00 505.65,87.50 505.54,88.00 505.44,88.50 505.32,89.00 505.21,89.50 505.09,90.00 504.96,90.50 504.82,91.00 504.67,91.50 504.50,92.00 504.31,92.50 504.09,93.00 503.85,93.50 503.59,94.00 503.31,94.50 503.00,95.00 502.69,95.50 502.36,96.00 502.03,96.50 501.68,97.00 501.34,97.50 500.99,98.00 500.64,98.50 500.30,99.00 499.95,99.50 499.59,100.00 499.22,100.50 498.84,101.00 498.45,101.50 498.05,102.00 497.65,102.50 497.24,103.00 496.83,103.50 496.42,104.00 496.01,104.50 495.60,105.00 495.20,105.50 494.80,106.00 494.40,106.50 493.99,107.00 493.57,107.50 493.15,108.00 492.72,108.50 492.29,109.00 491.85,109.50 491.42,110.00 490.99,110.50 490.56,111.00 490.14,111.50 489.72,112.00 489.31,112.50 488.91,113.00 488.52,113.50 488.15,114.00 487.79,114.50 487.44,115.00 487.11,115.50 486.80,116.00 486.50,116.50 486.21,117.00 485.93,117.50 485.65,118.00 485.38,118.50 485.12,119.00 484.87,119.50 484.62,120.00 484.38,120.50 484.14,121.00 483.92,121.50 483.70,122.00 483.49,122.50 483.28,123.00 483.09,123.50 482.90,124.00 482.72,124.50 482.54,125.00 482.37,125.50 482.20,126.00 482.04,126.50 481.88,127.00 481.73,127.50 481.59,128.00 481.45,128.50 481.33,129.00 481.21,129.50 481.10,130.00 480.99,130.50 480.89,131.00 480.78,131.50 480.67,132.00 480.56,132.50 480.46,133.00 480.37,133.50 480.28,134.00 480.20,134.50 480.13,135.00 480.08,135.50 480.04,136.00 480.01,136.50 480.00,137.00 480.04,137.50 480.14,138.00 480.29,138.50 480.49,139.00 480.72,139.50 480.97,140.00 481.24,140.50 481.50,141.00 481.80,141.50 482.18,142.00 482.59,142.50 483.04,143.00 483.48,143.50 483.90,144.00 484.31,144.50 484.72,145.00 485.14,145.50 485.56,146.00 485.98,146.50 486.39,147.00 486.79,147.50 487.18,148.00 487.55,148.50 487.90,149.00 488.22,149.50 488.52,150.00 488.81,150.50 489.10,151.00 489.39,151.50 489.70,152.00 490.02,152.50 490.35,153.00 490.68,153.50 491.02,154.00 491.37,154.50 491.73,155.00 492.11,155.50 492.50,156.00 492.93,156.50 493.40,157.00 493.90,157.50 494.40,158.00 494.91,158.50 495.38,159.00 495.82,159.50 496.20,160.00 496.54,160.50 496.86,161.00 497.17,161.50 497.46,162.00 497.74,162.50 498.01,163.00 498.27,163.50 498.52,164.00 498.77,164.50 499.00,165.00 499.23,165.50 499.46,166.00 499.68,166.50 499.90,167.00 500.12,167.50 500.33,168.00 500.53,168.50 500.73,169.00 500.93,169.50 501.12,170.00 501.31,170.50 501.49,171.00 501.67,171.50 501.85,172.00 502.02,172.50 502.18,173.00 502.34,173.50 502.50,174.00 502.65,174.50 502.80,175.00 502.95,175.50 503.10,176.00 503.24,176.50 503.38,177.00 503.52,177.50 503.66,178.00 503.79,178.50 503.92,179.00 504.05,179.50 504.18,180.00 504.30,180.50 504.42,181.00 504.54,181.50 504.66,182.00 504.77,182.50 504.88,183.00 504.99,183.50 505.10,184.00 505.20,184.50 505.31,185.00 505.41,185.50 505.50,186.00 505.60,186.50 505.69,187.00 505.78,187.50 505.87,188.00 505.96,188.50 506.04,189.00 506.12,189.50 506.20,190.00 506.28,190.50 506.35,191.00 506.42,191.50 506.49,192.00 506.56,192.50 506.62,193.00 506.69,193.50 506.75,194.00 506.81,194.50 506.88,195.00 506.94,195.50 507.00,196.00 507.06,196.50 507.12,197.00 507.18,197.50 507.23,198.00 507.29,198.50 507.35,199.00 507.40,199.50 507.46,200.00 507.52,200.50 507.58,201.00 507.64,201.50 507.70,202.00 507.77,202.50 507.86,203.00 507.95,203.50 508.05,204.00 508.14,204.50 508.23,205.00 508.30,205.50 508.36,206.00 508.40,206.50 508.42,207.00 508.42,207.50 508.42,208.00 508.42,208.50 508.43,209.00 508.43,209.50 508.43,210.00 508.43,210.50 508.43,211.00 508.43,211.50 508.43,212.00 508.43,212.50 508.44,213.00 508.44,213.50 508.44,214.00 508.44,214.50 508.44,215.00 508.44,215.50 508.44,216.00 508.44,216.50 508.44,217.00 508.44,217.50 508.44,218.00 508.44,218.50 508.44,219.00 508.44,219.50 508.45,220.00 508.45,220.50 508.45,221.00 508.45,221.50 508.45,222.00 508.45,222.50 508.45,223.00 508.45,223.50 508.45,224.00 508.45,224.50 508.45,225.00 508.45,225.50 508.45,226.00 508.45,226.50 508.45,227.00 508.45,227.50 508.45,228.00 508.45,228.50 508.45,229.00 508.45,229.50 508.45,230.00 508.45,230.50 508.45,231.00 508.45,231.50 508.55,231.50 508.55,231.00 508.55,230.50 508.55,230.00 508.55,229.50 508.55,229.00 508.55,228.50 508.55,228.00 508.55,227.50 508.55,227.00 508.55,226.50 508.55,226.00 508.55,225.50 508.55,225.00 508.55,224.50 508.55,224.00 508.55,223.50 508.55,223.00 508.55,222.50 508.55,222.00 508.55,221.50 508.55,221.00 508.55,220.50 508.55,220.00 508.56,219.50 508.56,219.00 508.56,218.50 508.56,218.00 508.56,217.50 508.56,217.00 508.56,216.50 508.56,216.00 508.56,215.50 508.56,215.00 508.56,214.50 508.56,214.00 508.56,213.50 508.56,213.00 508.57,212.50 508.57,212.00 508.57,211.50 508.57,211.00 508.57,210.50 508.57,210.00 508.57,209.50 508.57,209.00 508.58,208.50 508.58,208.00 508.58,207.50 508.58,207.00 508.60,206.50 508.64,206.00 508.70,205.50 508.77,205.00 508.86,204.50 508.95,204.00 509.05,203.50 509.14,203.00 509.23,202.50 509.30,202.00 509.36,201.50 509.42,201.00 509.48,200.50 509.54,200.00 509.60,199.50 509.65,199.00 509.71,198.50 509.77,198.00 509.82,197.50 509.88,197.00 509.94,196.50 510.00,196.00 510.06,195.50 510.12,195.00 510.19,194.50 510.25,194.00 510.31,193.50 510.38,193.00 510.44,192.50 510.51,192.00 510.58,191.50 510.65,191.00 510.72,190.50 510.80,190.00 510.88,189.50 510.96,189.00 511.04,188.50 511.13,188.00 511.22,187.50 511.31,187.00 511.40,186.50 511.50,186.00 511.59,185.50 511.69,185.00 511.80,184.50 511.90,184.00 512.01,183.50 512.12,183.00 512.23,182.50 512.34,182.00 512.46,181.50 512.58,181.00 512.70,180.50 512.82,180.00 512.95,179.50 513.08,179.00 513.21,178.50 513.34,178.00 513.48,177.50 513.62,177.00 513.76,176.50 513.90,176.00 514.05,175.50 514.20,175.00 514.35,174.50 514.50,174.00 514.66,173.50 514.82,173.00 514.98,172.50 515.15,172.00 515.33,171.50 515.51,171.00 515.69,170.50 515.88,170.00 516.07,169.50 516.27,169.00 516.47,168.50 516.67,168.00 516.88,167.50 517.10,167.00 517.32,166.50 517.54,166.00 517.77,165.50 518.00,165.00 518.23,164.50 518.48,164.00 518.73,163.50 518.99,163.00 519.26,162.50 519.54,162.00 519.83,161.50 520.14,161.00 520.46,160.50 520.80,160.00 521.18,159.50 521.62,159.00 522.09,158.50 522.60,158.00 523.10,157.50 523.60,157.00 524.07,156.50 524.50,156.00 524.89,155.50 525.27,155.00 525.63,154.50 525.98,154.00 526.32,153.50 526.65,153.00 526.98,152.50 527.30,152.00 527.61,151.50 527.90,151.00 528.19,150.50 528.48,150.00 528.78,149.50 529.10,149.00 529.45,148.50 529.82,148.00 530.21,147.50 530.61,147.00 531.02,146.50 531.44,146.00 531.86,145.50 532.28,145.00 532.69,144.50 533.10,144.00 533.52,143.50 533.96,143.00 534.41,142.50 534.82,142.00 535.20,141.50 535.50,141.00 535.76,140.50 536.03,140.00 536.28,139.50 536.51,139.00 536.71,138.50 536.86,138.00 536.96,137.50 537.00,137.00 536.99,136.50 536.96,136.00 536.92,135.50 536.87,135.00 536.80,134.50 536.72,134.00 536.63,133.50 536.54,133.00 536.44,132.50 536.33,132.00 536.22,131.50 536.11,131.00 536.01,130.50 535.90,130.00 535.79,129.50 535.67,129.00 535.55,128.50 535.41,128.00 535.27,127.50 535.12,127.00 534.96,126.50 534.80,126.00 534.63,125.50 534.46,125.00 534.28,124.50 534.10,124.00 533.91,123.50 533.72,123.00 533.51,122.50 533.30,122.00 533.08,121.50 532.86,121.00 532.62,120.50 532.38,120.00 532.13,119.50 531.88,119.00 531.62,118.50 531.35,118.00 531.07,117.50 530.79,117.00 530.50,116.50 530.20,116.00 529.89,115.50 529.56,115.00 529.21,114.50 528.85,114.00 528.48,113.50 528.09,113.00 527.69,112.50 527.28,112.00 526.86,111.50 526.44,111.00 526.01,110.50 525.58,110.00 525.15,109.50 524.71,109.00 524.28,108.50 523.85,108.00 523.43,107.50 523.01,107.00 522.60,106.50 522.20,106.00 521.80,105.50 521.40,105.00 520.99,104.50 520.58,104.00 520.17,103.50 519.76,103.00 519.35,102.50 518.95,102.00 518.55,101.50 518.16,101.00 517.78,100.50 517.41,100.00 517.05,99.50 516.70,99.00 516.36,98.50 516.01,98.00 515.66,97.50 515.32,97.00 514.97,96.50 514.64,96.00 514.31,95.50 514.00,95.00 513.69,94.50 513.41,94.00 513.15,93.50 512.91,93.00 512.69,92.50 512.50,92.00 512.33,91.50 512.18,91.00 512.04,90.50 511.91,90.00 511.79,89.50 511.68,89.00 511.56,88.50 511.46,88.00 511.35,87.50 511.24,87.00 511.12,86.50 511.00,86.00 510.87,85.50 510.73,85.00 510.59,84.50 510.44,84.00 510.29,83.50 510.15,83.00 510.01,82.50 509.88,82.00 509.76,81.50 509.66,81.00 509.57,80.50 509.50,80.00 509.44,79.50 509.39,79.00 509.34,78.50 509.28,78.00 509.24,77.50 509.19,77.00 509.14,76.50 509.10,76.00 509.06,75.50 509.02,75.00 508.99,74.50 508.96,74.00 508.93,73.50 508.90,73.00 508.87,72.50 508.85,72.00 508.84,71.50 508.82,71.00 508.81,70.50 508.80,70.00 508.79,69.50 508.79,69.00 508.78,68.50 508.77,68.00 508.77,67.50 508.76,67.00 508.75,66.50 508.75,66.00 508.74,65.50 508.74,65.00 508.73,64.50 508.73,64.00 508.72,63.50 508.71,63.00 508.71,62.50 508.70,62.00 508.70,61.50 508.69,61.00 508.69,60.50 508.68,60.00 508.68,59.50 508.67,59.00 508.67,58.50 508.66,58.00 508.66,57.50 508.66,57.00 508.65,56.50 508.65,56.00 508.64,55.50 508.64,55.00 508.64,54.50 508.63,54.00 508.63,53.50 508.63,53.00 508.62,52.50 508.62,52.00 508.62,51.50 508.61,51.00 508.61,50.50 508.61,50.00 508.60,49.50 508.60,49.00 508.60,48.50 508.59,48.00 508.59,47.50 508.59,47.00 508.59,46.50 508.59,46.00 508.58,45.50 508.58,45.00 508.58,44.50 508.58,44.00 508.57,43.50 508.57,43.00 508.57,42.50 508.57,42.00 508.57,41.50 508.57,41.00 508.56,40.50 508.56,40.00 508.56,39.50 508.56,39.00 508.56,38.50 508.56,38.00 508.56,37.50 508.56,37.00 508.56,36.50 508.55,36.00 508.55,35.50 508.55,35.00 508.55,34.50 508.55,34.00 508.55,33.50 508.55,33.00 508.55,32.50 508.55,32.00 508.55,31.50 508.55,31.00 508.55,30.50 508.55,30.00" fill="#dddddd" stroke="#8a8a8a" stroke-width="0.7" stroke-linejoin="round"/>
<line x1="508.50" y1="78.86" x2="508.50" y2="123.33" stroke="#a4a4a4" stroke-width="0.75"/>
<line x1="508.50" y1="152.98" x2="508.50" y2="212.28" stroke="#a4a4a4" stroke-width="0.75"/>
<rect x="502.05" y="123.33" width="12.90" height="29.65" fill="#747474"/>
<line x1="502.05" y1="138.16" x2="514.95" y2="138.16" stroke="#363636" stroke-width="1.15"/>
<line x1="508.50" y1="30.00" x2="508.50" y2="80.00" stroke="#707070" stroke-width="0.9"/>
<line x1="508.50" y1="207.00" x2="508.50" y2="231.50" stroke="#909090" stroke-width="0.8"/>
<circle cx="508.50" cy="49.21" r="1.15" fill="#1a1a1a"/>
<circle cx="508.50" cy="219.69" r="1.15" fill="#1a1a1a"/>
<polyline points="318.40,19.90 318.40,15.40 382.10,15.40 382.10,19.90" fill="none" stroke="#6c6c6c" stroke-width="0.9"/>
<line x1="350.25" y1="11.60" x2="350.25" y2="15.40" stroke="#6c6c6c" stroke-width="0.9"/>
<text x="350.50" y="13.50" font-size="8" text-anchor="middle" font-weight="bold" fill="#111" letter-spacing="0.6" style="stroke-width:0.25px">**</text>
<polyline points="382.10,26.90 382.10,22.40 445.40,22.40 445.40,26.90" fill="none" stroke="#6c6c6c" stroke-width="0.9"/>
<line x1="413.75" y1="16.60" x2="413.75" y2="22.40" stroke="#6c6c6c" stroke-width="0.9"/>
<text x="414.00" y="18.50" font-size="8" text-anchor="middle" font-weight="bold" fill="#111" letter-spacing="0.6" style="stroke-width:0.25px">***</text>
<polyline points="445.40,35.50 445.40,31.00 508.50,31.00 508.50,35.50" fill="none" stroke="#6c6c6c" stroke-width="0.9"/>
<line x1="476.95" y1="27.10" x2="476.95" y2="31.00" stroke="#6c6c6c" stroke-width="0.9"/>
<text x="477.20" y="29.00" font-size="8" text-anchor="middle" font-weight="bold" fill="#111" letter-spacing="0.6" style="stroke-width:0.25px">**</text>
<text x="306.80" y="250.00" font-size="8.2" font-weight="normal" fill="#222" textLength="23.00" lengthAdjust="spacingAndGlyphs">F (428)</text>
<text x="364.40" y="250.00" font-size="8.2" font-weight="normal" fill="#222" textLength="32.80" lengthAdjust="spacingAndGlyphs">FN (1771)</text>
<text x="431.80" y="250.00" font-size="8.2" font-weight="normal" fill="#222" textLength="26.00" lengthAdjust="spacingAndGlyphs">M (307)</text>
<text x="489.20" y="250.00" font-size="8.2" font-weight="normal" fill="#222" textLength="36.20" lengthAdjust="spacingAndGlyphs">MN (1794)</text>
</svg></body></html>
